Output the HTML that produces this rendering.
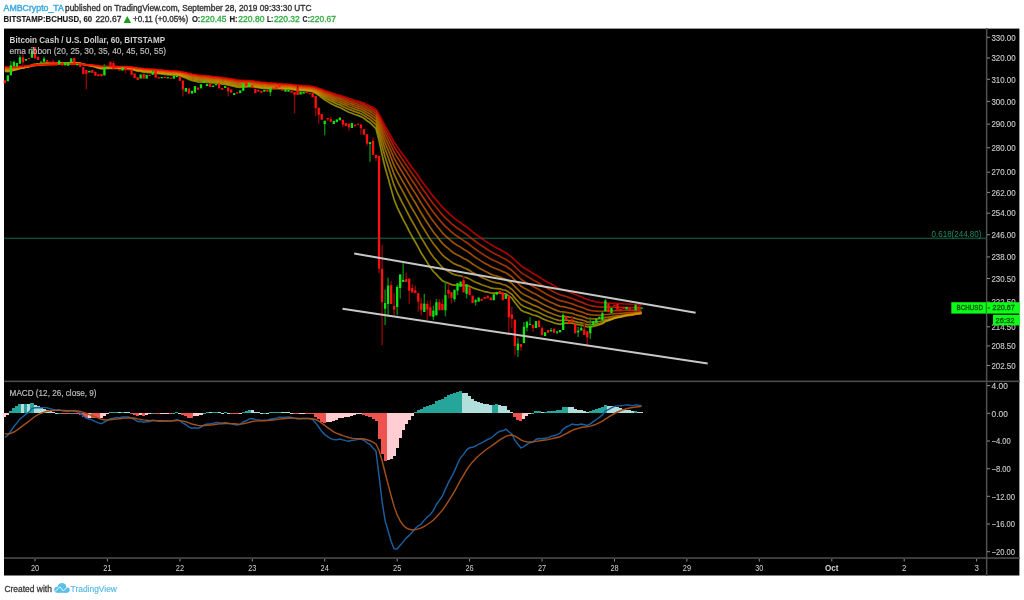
<!DOCTYPE html>
<html><head><meta charset="utf-8"><style>
html,body{margin:0;padding:0;background:#fff;width:1024px;height:600px;overflow:hidden;}
body{position:relative;font-family:"Liberation Sans",sans-serif;}
.t{position:absolute;white-space:nowrap;font-size:9.4px;line-height:1;color:#4a4a4a;}
.b{font-weight:bold;color:#333;}
.g{color:#3cb34a;}
svg{position:absolute;left:0;top:0;filter:blur(0.6px);}
svg text{font-family:"Liberation Sans",sans-serif;}
</style></head><body>
<svg width="1024" height="600" viewBox="0 0 1024 600">
<rect x="4" y="28.6" width="1015.4" height="546.9" fill="#000"/>

<rect x="4" y="380.6" width="1016" height="1.5" fill="#505050"/>
<rect x="4" y="557.3" width="1016" height="1.5" fill="#505050"/>
<rect x="985.9" y="28" width="1.5" height="548" fill="#505050"/>
<rect x="4" y="237.6" width="982" height="1.5" fill="#0f4c36"/>
<rect x="880" y="237.6" width="106" height="1.5" fill="#15623f" opacity="0.0"/>
<text x="931.6" y="237" font-size="9" fill="#1f8c66" textLength="49.8" lengthAdjust="spacingAndGlyphs">0.618(244.80)</text>
<rect x="987" y="36.8" width="3" height="1" fill="#8c8c8c"/>
<text x="991.4" y="40.5" font-size="8.6" fill="#cccccc" stroke="#cccccc" stroke-width="0.12" textLength="24.2" lengthAdjust="spacingAndGlyphs">330.00</text>
<rect x="987" y="57.5" width="3" height="1" fill="#8c8c8c"/>
<text x="991.4" y="61.2" font-size="8.6" fill="#cccccc" stroke="#cccccc" stroke-width="0.12" textLength="24.2" lengthAdjust="spacingAndGlyphs">320.00</text>
<rect x="987" y="78.8" width="3" height="1" fill="#8c8c8c"/>
<text x="991.4" y="82.5" font-size="8.6" fill="#cccccc" stroke="#cccccc" stroke-width="0.12" textLength="24.2" lengthAdjust="spacingAndGlyphs">310.00</text>
<rect x="987" y="100.9" width="3" height="1" fill="#8c8c8c"/>
<text x="991.4" y="104.6" font-size="8.6" fill="#cccccc" stroke="#cccccc" stroke-width="0.12" textLength="24.2" lengthAdjust="spacingAndGlyphs">300.00</text>
<rect x="987" y="123.6" width="3" height="1" fill="#8c8c8c"/>
<text x="991.4" y="127.3" font-size="8.6" fill="#cccccc" stroke="#cccccc" stroke-width="0.12" textLength="24.2" lengthAdjust="spacingAndGlyphs">290.00</text>
<rect x="987" y="147.2" width="3" height="1" fill="#8c8c8c"/>
<text x="991.4" y="150.9" font-size="8.6" fill="#cccccc" stroke="#cccccc" stroke-width="0.12" textLength="24.2" lengthAdjust="spacingAndGlyphs">280.00</text>
<rect x="987" y="171.7" width="3" height="1" fill="#8c8c8c"/>
<text x="991.4" y="175.4" font-size="8.6" fill="#cccccc" stroke="#cccccc" stroke-width="0.12" textLength="24.2" lengthAdjust="spacingAndGlyphs">270.00</text>
<rect x="987" y="191.9" width="3" height="1" fill="#8c8c8c"/>
<text x="991.4" y="195.6" font-size="8.6" fill="#cccccc" stroke="#cccccc" stroke-width="0.12" textLength="24.2" lengthAdjust="spacingAndGlyphs">262.00</text>
<rect x="987" y="212.7" width="3" height="1" fill="#8c8c8c"/>
<text x="991.4" y="216.4" font-size="8.6" fill="#cccccc" stroke="#cccccc" stroke-width="0.12" textLength="24.2" lengthAdjust="spacingAndGlyphs">254.00</text>
<rect x="987" y="234.2" width="3" height="1" fill="#8c8c8c"/>
<text x="991.4" y="237.9" font-size="8.6" fill="#cccccc" stroke="#cccccc" stroke-width="0.12" textLength="24.2" lengthAdjust="spacingAndGlyphs">246.00</text>
<rect x="987" y="256.4" width="3" height="1" fill="#8c8c8c"/>
<text x="991.4" y="260.1" font-size="8.6" fill="#cccccc" stroke="#cccccc" stroke-width="0.12" textLength="24.2" lengthAdjust="spacingAndGlyphs">238.00</text>
<rect x="987" y="278.0" width="3" height="1" fill="#8c8c8c"/>
<text x="991.4" y="281.7" font-size="8.6" fill="#cccccc" stroke="#cccccc" stroke-width="0.12" textLength="24.2" lengthAdjust="spacingAndGlyphs">230.50</text>
<rect x="987" y="301.7" width="3" height="1" fill="#8c8c8c"/>
<text x="991.4" y="305.4" font-size="8.6" fill="#cccccc" stroke="#cccccc" stroke-width="0.12" textLength="24.2" lengthAdjust="spacingAndGlyphs">222.50</text>
<rect x="987" y="326.3" width="3" height="1" fill="#8c8c8c"/>
<text x="991.4" y="330.0" font-size="8.6" fill="#cccccc" stroke="#cccccc" stroke-width="0.12" textLength="24.2" lengthAdjust="spacingAndGlyphs">214.50</text>
<rect x="987" y="345.4" width="3" height="1" fill="#8c8c8c"/>
<text x="991.4" y="349.1" font-size="8.6" fill="#cccccc" stroke="#cccccc" stroke-width="0.12" textLength="24.2" lengthAdjust="spacingAndGlyphs">208.50</text>
<rect x="987" y="365.0" width="3" height="1" fill="#8c8c8c"/>
<text x="991.4" y="368.7" font-size="8.6" fill="#cccccc" stroke="#cccccc" stroke-width="0.12" textLength="24.2" lengthAdjust="spacingAndGlyphs">202.50</text>
<rect x="987" y="385.1" width="3" height="1" fill="#8c8c8c"/>
<text x="991.6" y="388.8" font-size="8.6" fill="#cccccc" stroke="#cccccc" stroke-width="0.12" textLength="16.2" lengthAdjust="spacingAndGlyphs">4.00</text>
<rect x="987" y="412.8" width="3" height="1" fill="#8c8c8c"/>
<text x="991.6" y="416.5" font-size="8.6" fill="#cccccc" stroke="#cccccc" stroke-width="0.12" textLength="16.2" lengthAdjust="spacingAndGlyphs">0.00</text>
<rect x="987" y="440.5" width="3" height="1" fill="#8c8c8c"/>
<text x="991.6" y="444.2" font-size="8.6" fill="#cccccc" stroke="#cccccc" stroke-width="0.12" textLength="19.2" lengthAdjust="spacingAndGlyphs">−4.00</text>
<rect x="987" y="468.2" width="3" height="1" fill="#8c8c8c"/>
<text x="991.6" y="471.9" font-size="8.6" fill="#cccccc" stroke="#cccccc" stroke-width="0.12" textLength="19.2" lengthAdjust="spacingAndGlyphs">−8.00</text>
<rect x="987" y="495.8" width="3" height="1" fill="#8c8c8c"/>
<text x="991.6" y="499.5" font-size="8.6" fill="#cccccc" stroke="#cccccc" stroke-width="0.12" textLength="23.5" lengthAdjust="spacingAndGlyphs">−12.00</text>
<rect x="987" y="523.5" width="3" height="1" fill="#8c8c8c"/>
<text x="991.6" y="527.2" font-size="8.6" fill="#cccccc" stroke="#cccccc" stroke-width="0.12" textLength="23.5" lengthAdjust="spacingAndGlyphs">−16.00</text>
<rect x="987" y="551.2" width="3" height="1" fill="#8c8c8c"/>
<text x="991.6" y="554.9" font-size="8.6" fill="#cccccc" stroke="#cccccc" stroke-width="0.12" textLength="23.5" lengthAdjust="spacingAndGlyphs">−20.00</text>
<rect x="34.5" y="559" width="1" height="2.5" fill="#8c8c8c"/>
<text x="30.9" y="571" font-size="8.6" fill="#d4d4d4" textLength="8.2" lengthAdjust="spacingAndGlyphs">20</text>
<rect x="106.9" y="559" width="1" height="2.5" fill="#8c8c8c"/>
<text x="103.3" y="571" font-size="8.6" fill="#d4d4d4" textLength="8.2" lengthAdjust="spacingAndGlyphs">21</text>
<rect x="179.4" y="559" width="1" height="2.5" fill="#8c8c8c"/>
<text x="175.8" y="571" font-size="8.6" fill="#d4d4d4" textLength="8.2" lengthAdjust="spacingAndGlyphs">22</text>
<rect x="251.8" y="559" width="1" height="2.5" fill="#8c8c8c"/>
<text x="248.2" y="571" font-size="8.6" fill="#d4d4d4" textLength="8.2" lengthAdjust="spacingAndGlyphs">23</text>
<rect x="324.2" y="559" width="1" height="2.5" fill="#8c8c8c"/>
<text x="320.6" y="571" font-size="8.6" fill="#d4d4d4" textLength="8.2" lengthAdjust="spacingAndGlyphs">24</text>
<rect x="396.7" y="559" width="1" height="2.5" fill="#8c8c8c"/>
<text x="393.1" y="571" font-size="8.6" fill="#d4d4d4" textLength="8.2" lengthAdjust="spacingAndGlyphs">25</text>
<rect x="469.1" y="559" width="1" height="2.5" fill="#8c8c8c"/>
<text x="465.5" y="571" font-size="8.6" fill="#d4d4d4" textLength="8.2" lengthAdjust="spacingAndGlyphs">26</text>
<rect x="541.5" y="559" width="1" height="2.5" fill="#8c8c8c"/>
<text x="537.9" y="571" font-size="8.6" fill="#d4d4d4" textLength="8.2" lengthAdjust="spacingAndGlyphs">27</text>
<rect x="614.0" y="559" width="1" height="2.5" fill="#8c8c8c"/>
<text x="610.4" y="571" font-size="8.6" fill="#d4d4d4" textLength="8.2" lengthAdjust="spacingAndGlyphs">28</text>
<rect x="686.4" y="559" width="1" height="2.5" fill="#8c8c8c"/>
<text x="682.8" y="571" font-size="8.6" fill="#d4d4d4" textLength="8.2" lengthAdjust="spacingAndGlyphs">29</text>
<rect x="758.8" y="559" width="1" height="2.5" fill="#8c8c8c"/>
<text x="755.2" y="571" font-size="8.6" fill="#d4d4d4" textLength="8.2" lengthAdjust="spacingAndGlyphs">30</text>
<rect x="831.3" y="559" width="1" height="2.5" fill="#8c8c8c"/>
<text x="825.0" y="571" font-size="8.6" font-weight="bold" fill="#d4d4d4" textLength="13.5" lengthAdjust="spacingAndGlyphs">Oct</text>
<rect x="903.7" y="559" width="1" height="2.5" fill="#8c8c8c"/>
<text x="902.0" y="571" font-size="8.6" fill="#d4d4d4" textLength="4.4" lengthAdjust="spacingAndGlyphs">2</text>
<rect x="976.1" y="559" width="1" height="2.5" fill="#8c8c8c"/>
<text x="974.4" y="571" font-size="8.6" fill="#d4d4d4" textLength="4.4" lengthAdjust="spacingAndGlyphs">3</text>
<polyline points="4.8,71.3 7.8,71.7 10.9,71.1 13.9,70.2 16.9,69.5 19.9,68.4 22.9,67.8 25.9,66.9 29.0,66.2 32.0,64.8 35.0,64.2 38.0,63.8 41.0,63.5 44.1,63.1 47.1,62.9 50.1,63.0 53.1,63.0 56.1,63.0 59.1,62.7 62.2,63.0 65.2,62.9 68.2,62.9 71.2,62.5 74.2,62.6 77.3,62.8 80.3,63.2 83.3,64.2 86.3,65.1 89.3,65.7 92.3,66.3 95.4,67.2 98.4,68.1 101.4,68.9 104.4,68.7 107.4,68.5 110.4,68.2 113.5,68.3 116.5,68.3 119.5,68.5 122.5,68.4 125.5,68.6 128.6,68.7 131.6,69.3 134.6,70.1 137.6,71.1 140.6,71.4 143.6,72.1 146.7,72.3 149.7,72.7 152.7,72.6 155.7,73.0 158.7,73.6 161.8,73.9 164.8,74.3 167.8,74.6 170.8,74.9 173.8,75.0 176.8,75.1 179.9,75.6 182.9,76.9 185.9,78.0 188.9,79.5 191.9,80.5 195.0,81.1 198.0,81.9 201.0,82.1 204.0,82.0 207.0,82.2 210.0,82.6 213.1,82.9 216.1,83.0 219.1,83.5 222.1,84.1 225.1,84.3 228.2,84.9 231.2,85.7 234.2,86.4 237.2,87.1 240.2,87.4 243.2,87.0 246.3,86.9 249.3,86.5 252.3,86.6 255.3,87.2 258.3,87.6 261.4,88.1 264.4,88.3 267.4,88.6 270.4,88.6 273.4,88.6 276.4,88.6 279.5,88.5 282.5,88.8 285.5,88.8 288.5,88.9 291.5,89.3 294.5,89.8 297.6,90.3 300.6,90.4 303.6,90.5 306.6,90.8 309.6,91.1 312.7,91.7 315.7,93.2 318.7,95.2 321.7,97.5 324.7,99.7 327.7,101.6 330.8,103.5 333.8,105.1 336.8,106.4 339.8,107.5 342.8,109.1 345.9,110.7 348.9,112.2 351.9,113.3 354.9,114.5 357.9,115.4 360.9,116.6 364.0,118.3 367.0,120.7 370.0,122.7 373.0,125.7 376.0,128.7 379.1,140.9 382.1,154.7 385.1,167.5 388.1,177.9 391.1,188.9 394.1,199.5 397.2,207.4 400.2,213.5 403.2,219.6 406.2,225.2 409.2,231.2 412.2,236.8 415.3,242.0 418.3,247.4 421.3,253.2 424.3,257.8 427.3,262.6 430.4,267.5 433.4,271.5 436.4,274.4 439.4,277.7 442.4,280.7 445.4,282.1 448.5,283.2 451.5,284.6 454.5,285.1 457.5,284.9 460.5,284.6 463.6,285.3 466.6,285.2 469.6,286.2 472.6,287.7 475.6,288.9 478.6,289.7 481.7,290.8 484.7,291.6 487.7,292.2 490.7,293.0 493.7,293.1 496.8,293.0 499.8,293.0 502.8,293.7 505.8,293.8 508.8,296.0 511.8,298.1 514.9,302.5 517.9,306.3 520.9,310.1 523.9,311.7 526.9,312.6 530.0,313.7 533.0,315.0 536.0,315.6 539.0,316.7 542.0,318.4 545.0,319.8 548.1,321.0 551.1,321.8 554.1,322.9 557.1,323.7 560.1,324.3 563.1,323.4 566.2,323.1 569.2,323.2 572.2,323.1 575.2,324.0 578.2,324.7 581.3,325.0 584.3,325.9 587.3,327.0 590.3,327.0 593.3,326.4 596.3,325.7 599.4,324.8 602.4,323.7 605.4,321.5 608.4,320.6 611.4,319.4 614.5,318.1 617.5,317.3 620.5,316.6 623.5,315.9 626.5,315.0 629.5,314.5 632.6,314.2 635.6,313.3 638.6,312.9 641.6,312.4" fill="none" stroke="#d0c400" stroke-width="1.7" stroke-opacity="0.68"/>
<polyline points="4.8,70.6 7.8,70.9 10.9,70.5 13.9,69.8 16.9,69.3 19.9,68.4 22.9,67.9 25.9,67.2 29.0,66.6 32.0,65.4 35.0,64.9 38.0,64.5 41.0,64.3 44.1,63.8 47.1,63.7 50.1,63.6 53.1,63.6 56.1,63.5 59.1,63.3 62.2,63.4 65.2,63.4 68.2,63.3 71.2,62.9 74.2,63.0 77.3,63.1 80.3,63.4 83.3,64.2 86.3,65.0 89.3,65.4 92.3,66.0 95.4,66.7 98.4,67.5 101.4,68.1 104.4,68.0 107.4,68.0 110.4,67.8 113.5,67.9 116.5,67.9 119.5,68.1 122.5,68.0 125.5,68.2 128.6,68.4 131.6,68.9 134.6,69.6 137.6,70.4 140.6,70.7 143.6,71.3 146.7,71.5 149.7,71.9 152.7,71.9 155.7,72.3 158.7,72.8 161.8,73.1 164.8,73.5 167.8,73.8 170.8,74.1 173.8,74.3 176.8,74.4 179.9,74.9 182.9,76.0 185.9,76.9 188.9,78.2 191.9,79.1 195.0,79.7 198.0,80.4 201.0,80.7 204.0,80.7 207.0,81.0 210.0,81.4 213.1,81.8 216.1,81.9 219.1,82.4 222.1,83.0 225.1,83.2 228.2,83.8 231.2,84.5 234.2,85.2 237.2,85.8 240.2,86.2 243.2,85.9 246.3,85.9 249.3,85.7 252.3,85.8 255.3,86.4 258.3,86.8 261.4,87.3 264.4,87.4 267.4,87.8 270.4,87.8 273.4,87.9 276.4,88.0 279.5,87.9 282.5,88.2 285.5,88.3 288.5,88.4 291.5,88.7 294.5,89.2 297.6,89.6 300.6,89.8 303.6,89.9 306.6,90.2 309.6,90.5 312.7,91.0 315.7,92.3 318.7,94.0 321.7,95.9 324.7,97.8 327.7,99.5 330.8,101.1 333.8,102.6 336.8,103.9 339.8,104.9 342.8,106.4 345.9,107.9 348.9,109.4 351.9,110.4 354.9,111.6 357.9,112.6 360.9,113.8 364.0,115.4 367.0,117.5 370.0,119.4 373.0,122.0 376.0,124.7 379.1,134.8 382.1,146.3 385.1,157.1 388.1,166.2 391.1,175.8 394.1,185.2 397.2,192.5 400.2,198.5 403.2,204.4 406.2,210.1 409.2,216.0 412.2,221.5 415.3,226.8 418.3,232.3 421.3,237.9 424.3,242.8 427.3,247.7 430.4,252.7 433.4,257.0 436.4,260.4 439.4,264.1 442.4,267.5 445.4,269.6 448.5,271.4 451.5,273.4 454.5,274.7 457.5,275.3 460.5,275.8 463.6,277.0 466.6,277.6 469.6,278.9 472.6,280.8 475.6,282.3 478.6,283.4 481.7,284.7 484.7,285.8 487.7,286.8 490.7,287.8 493.7,288.3 496.8,288.6 499.8,288.9 502.8,289.8 505.8,290.2 508.8,292.2 511.8,294.2 514.9,298.1 517.9,301.5 520.9,304.8 523.9,306.5 526.9,307.7 530.0,308.9 533.0,310.3 536.0,311.2 539.0,312.4 542.0,314.1 545.0,315.5 548.1,316.8 551.1,317.8 554.1,319.0 557.1,319.9 560.1,320.7 563.1,320.2 566.2,320.2 569.2,320.5 572.2,320.6 575.2,321.6 578.2,322.3 581.3,322.8 584.3,323.7 587.3,324.7 590.3,324.9 593.3,324.6 596.3,324.1 599.4,323.6 602.4,322.7 605.4,321.0 608.4,320.3 611.4,319.4 614.5,318.3 617.5,317.7 620.5,317.1 623.5,316.5 626.5,315.7 629.5,315.3 632.6,314.9 635.6,314.1 638.6,313.8 641.6,313.3" fill="none" stroke="#d4b000" stroke-width="1.7" stroke-opacity="0.68"/>
<polyline points="4.8,69.8 7.8,70.2 10.9,69.9 13.9,69.3 16.9,68.9 19.9,68.2 22.9,67.8 25.9,67.2 29.0,66.7 32.0,65.7 35.0,65.2 38.0,64.9 41.0,64.7 44.1,64.3 47.1,64.1 50.1,64.0 53.1,64.0 56.1,63.9 59.1,63.7 62.2,63.8 65.2,63.7 68.2,63.7 71.2,63.3 74.2,63.3 77.3,63.4 80.3,63.6 83.3,64.3 86.3,64.9 89.3,65.3 92.3,65.8 95.4,66.4 98.4,67.1 101.4,67.6 104.4,67.6 107.4,67.6 110.4,67.4 113.5,67.5 116.5,67.6 119.5,67.8 122.5,67.7 125.5,67.9 128.6,68.0 131.6,68.5 134.6,69.1 137.6,69.8 140.6,70.1 143.6,70.6 146.7,70.9 149.7,71.2 152.7,71.2 155.7,71.7 158.7,72.1 161.8,72.4 164.8,72.8 167.8,73.1 170.8,73.4 173.8,73.6 176.8,73.7 179.9,74.2 182.9,75.1 185.9,76.0 188.9,77.1 191.9,78.0 195.0,78.5 198.0,79.2 201.0,79.5 204.0,79.6 207.0,79.9 210.0,80.3 213.1,80.7 216.1,80.9 219.1,81.4 222.1,81.9 225.1,82.2 228.2,82.8 231.2,83.4 234.2,84.0 237.2,84.6 240.2,85.0 243.2,84.9 246.3,85.0 249.3,84.8 252.3,85.0 255.3,85.5 258.3,85.9 261.4,86.3 264.4,86.6 267.4,86.9 270.4,87.0 273.4,87.1 276.4,87.2 279.5,87.3 282.5,87.5 285.5,87.6 288.5,87.7 291.5,88.1 294.5,88.5 297.6,88.9 300.6,89.1 303.6,89.3 306.6,89.5 309.6,89.8 312.7,90.3 315.7,91.4 318.7,92.9 321.7,94.6 324.7,96.3 327.7,97.7 330.8,99.2 333.8,100.6 336.8,101.8 339.8,102.8 342.8,104.2 345.9,105.6 348.9,107.0 351.9,108.0 354.9,109.1 357.9,110.1 360.9,111.3 364.0,112.8 367.0,114.7 370.0,116.5 373.0,118.9 376.0,121.3 379.1,129.9 382.1,139.8 385.1,149.2 388.1,157.2 391.1,165.8 394.1,174.2 397.2,180.9 400.2,186.6 403.2,192.2 406.2,197.7 409.2,203.3 412.2,208.7 415.3,213.9 418.3,219.2 421.3,224.7 424.3,229.5 427.3,234.4 430.4,239.4 433.4,243.8 436.4,247.4 439.4,251.3 442.4,254.9 445.4,257.5 448.5,259.7 451.5,262.1 454.5,263.9 457.5,265.1 460.5,266.1 463.6,267.8 466.6,268.9 469.6,270.5 472.6,272.6 475.6,274.3 478.6,275.8 481.7,277.4 484.7,278.8 487.7,280.0 490.7,281.3 493.7,282.1 496.8,282.8 499.8,283.4 502.8,284.5 505.8,285.2 508.8,287.2 511.8,289.2 514.9,292.7 517.9,295.9 520.9,299.0 523.9,300.8 526.9,302.1 530.0,303.5 533.0,305.1 536.0,306.1 539.0,307.4 542.0,309.2 545.0,310.7 548.1,312.1 551.1,313.2 554.1,314.5 557.1,315.5 560.1,316.5 563.1,316.4 566.2,316.6 569.2,317.1 572.2,317.4 575.2,318.4 578.2,319.2 581.3,319.8 584.3,320.7 587.3,321.8 590.3,322.1 593.3,322.0 596.3,321.8 599.4,321.5 602.4,321.0 605.4,319.6 608.4,319.1 611.4,318.4 614.5,317.6 617.5,317.1 620.5,316.7 623.5,316.2 626.5,315.6 629.5,315.2 632.6,314.9 635.6,314.2 638.6,313.9 641.6,313.5" fill="none" stroke="#dc9c00" stroke-width="1.7" stroke-opacity="0.68"/>
<polyline points="4.8,69.1 7.8,69.5 10.9,69.2 13.9,68.8 16.9,68.5 19.9,67.9 22.9,67.6 25.9,67.1 29.0,66.6 32.0,65.8 35.0,65.4 38.0,65.1 41.0,64.9 44.1,64.5 47.1,64.4 50.1,64.3 53.1,64.2 56.1,64.2 59.1,63.9 62.2,64.0 65.2,63.9 68.2,63.9 71.2,63.6 74.2,63.6 77.3,63.6 80.3,63.8 83.3,64.4 86.3,64.9 89.3,65.2 92.3,65.6 95.4,66.2 98.4,66.8 101.4,67.3 104.4,67.3 107.4,67.3 110.4,67.2 113.5,67.3 116.5,67.3 119.5,67.5 122.5,67.5 125.5,67.6 128.6,67.8 131.6,68.2 134.6,68.7 137.6,69.3 140.6,69.6 143.6,70.1 146.7,70.4 149.7,70.7 152.7,70.7 155.7,71.1 158.7,71.5 161.8,71.8 164.8,72.2 167.8,72.4 170.8,72.8 173.8,72.9 176.8,73.1 179.9,73.5 182.9,74.4 185.9,75.2 188.9,76.2 191.9,77.0 195.0,77.5 198.0,78.2 201.0,78.5 204.0,78.6 207.0,78.9 210.0,79.4 213.1,79.7 216.1,79.9 219.1,80.4 222.1,80.9 225.1,81.2 228.2,81.8 231.2,82.4 234.2,82.9 237.2,83.5 240.2,83.9 243.2,83.9 246.3,84.0 249.3,83.9 252.3,84.1 255.3,84.6 258.3,85.0 261.4,85.4 264.4,85.7 267.4,86.0 270.4,86.1 273.4,86.3 276.4,86.4 279.5,86.5 282.5,86.7 285.5,86.9 288.5,87.0 291.5,87.4 294.5,87.8 297.6,88.2 300.6,88.4 303.6,88.6 306.6,88.8 309.6,89.1 312.7,89.5 315.7,90.6 318.7,91.9 321.7,93.4 324.7,94.9 327.7,96.2 330.8,97.6 333.8,98.9 336.8,100.0 339.8,101.0 342.8,102.3 345.9,103.6 348.9,104.8 351.9,105.8 354.9,107.0 357.9,107.9 360.9,109.0 364.0,110.4 367.0,112.2 370.0,113.9 373.0,116.1 376.0,118.3 379.1,125.9 382.1,134.5 385.1,142.9 388.1,150.1 391.1,157.8 394.1,165.3 397.2,171.6 400.2,176.9 403.2,182.2 406.2,187.4 409.2,192.7 412.2,197.9 415.3,202.8 418.3,208.0 421.3,213.3 424.3,218.0 427.3,222.8 430.4,227.6 433.4,232.0 436.4,235.7 439.4,239.6 442.4,243.3 445.4,246.1 448.5,248.7 451.5,251.3 454.5,253.4 457.5,255.0 460.5,256.5 463.6,258.4 466.6,259.8 469.6,261.7 472.6,264.0 475.6,265.9 478.6,267.7 481.7,269.5 484.7,271.1 487.7,272.5 490.7,274.1 493.7,275.2 496.8,276.1 499.8,277.0 502.8,278.3 505.8,279.2 508.8,281.3 511.8,283.3 514.9,286.6 517.9,289.7 520.9,292.7 523.9,294.6 526.9,296.0 530.0,297.6 533.0,299.2 536.0,300.4 539.0,301.9 542.0,303.7 545.0,305.2 548.1,306.7 551.1,308.0 554.1,309.4 557.1,310.6 560.1,311.6 563.1,311.8 566.2,312.3 569.2,312.9 572.2,313.4 575.2,314.5 578.2,315.4 581.3,316.1 584.3,317.1 587.3,318.3 590.3,318.7 593.3,318.8 596.3,318.8 599.4,318.7 602.4,318.4 605.4,317.4 608.4,317.1 611.4,316.6 614.5,316.0 617.5,315.7 620.5,315.4 623.5,315.0 626.5,314.6 629.5,314.3 632.6,314.1 635.6,313.6 638.6,313.3 641.6,313.0" fill="none" stroke="#e48400" stroke-width="1.7" stroke-opacity="0.68"/>
<polyline points="4.8,68.5 7.8,68.8 10.9,68.6 13.9,68.3 16.9,68.0 19.9,67.5 22.9,67.2 25.9,66.8 29.0,66.5 32.0,65.7 35.0,65.4 38.0,65.1 41.0,64.9 44.1,64.6 47.1,64.5 50.1,64.4 53.1,64.3 56.1,64.3 59.1,64.1 62.2,64.1 65.2,64.1 68.2,64.0 71.2,63.7 74.2,63.7 77.3,63.8 80.3,63.9 83.3,64.4 86.3,64.9 89.3,65.2 92.3,65.5 95.4,66.0 98.4,66.5 101.4,67.0 104.4,67.0 107.4,67.0 110.4,66.9 113.5,67.0 116.5,67.1 119.5,67.3 122.5,67.3 125.5,67.4 128.6,67.5 131.6,67.9 134.6,68.4 137.6,68.9 140.6,69.2 143.6,69.7 146.7,69.9 149.7,70.2 152.7,70.3 155.7,70.6 158.7,71.0 161.8,71.3 164.8,71.6 167.8,71.9 170.8,72.2 173.8,72.4 176.8,72.6 179.9,73.0 182.9,73.8 185.9,74.4 188.9,75.4 191.9,76.1 195.0,76.6 198.0,77.2 201.0,77.6 204.0,77.7 207.0,78.0 210.0,78.5 213.1,78.8 216.1,79.0 219.1,79.5 222.1,80.0 225.1,80.3 228.2,80.8 231.2,81.4 234.2,82.0 237.2,82.5 240.2,82.9 243.2,82.9 246.3,83.1 249.3,83.1 252.3,83.3 255.3,83.8 258.3,84.1 261.4,84.6 264.4,84.8 267.4,85.1 270.4,85.3 273.4,85.5 276.4,85.6 279.5,85.7 282.5,86.0 285.5,86.1 288.5,86.3 291.5,86.6 294.5,87.0 297.6,87.4 300.6,87.6 303.6,87.8 306.6,88.1 309.6,88.4 312.7,88.8 315.7,89.7 318.7,90.9 321.7,92.3 324.7,93.7 327.7,94.9 330.8,96.2 333.8,97.4 336.8,98.4 339.8,99.3 342.8,100.5 345.9,101.8 348.9,103.0 351.9,103.9 354.9,105.0 357.9,106.0 360.9,107.0 364.0,108.4 367.0,110.0 370.0,111.6 373.0,113.6 376.0,115.7 379.1,122.4 382.1,130.2 385.1,137.6 388.1,144.2 391.1,151.1 394.1,158.1 397.2,163.8 400.2,168.8 403.2,173.8 406.2,178.7 409.2,183.8 412.2,188.7 415.3,193.4 418.3,198.3 421.3,203.4 424.3,207.9 427.3,212.5 430.4,217.2 433.4,221.5 436.4,225.2 439.4,229.1 442.4,232.9 445.4,235.8 448.5,238.5 451.5,241.3 454.5,243.5 457.5,245.4 460.5,247.1 463.6,249.3 466.6,250.9 469.6,253.0 472.6,255.4 475.6,257.5 478.6,259.4 481.7,261.4 484.7,263.2 487.7,264.8 490.7,266.5 493.7,267.8 496.8,269.0 499.8,270.2 502.8,271.6 505.8,272.7 508.8,274.8 511.8,276.9 514.9,280.1 517.9,283.1 520.9,286.0 523.9,288.0 526.9,289.6 530.0,291.2 533.0,293.0 536.0,294.3 539.0,295.9 542.0,297.7 545.0,299.4 548.1,301.0 551.1,302.4 554.1,303.8 557.1,305.1 560.1,306.3 563.1,306.7 566.2,307.4 569.2,308.2 572.2,308.9 575.2,310.0 578.2,311.0 581.3,311.9 584.3,313.0 587.3,314.1 590.3,314.7 593.3,315.0 596.3,315.2 599.4,315.3 602.4,315.2 605.4,314.5 608.4,314.4 611.4,314.0 614.5,313.7 617.5,313.5 620.5,313.3 623.5,313.1 626.5,312.8 629.5,312.7 632.6,312.6 635.6,312.2 638.6,312.0 641.6,311.8" fill="none" stroke="#ec6c00" stroke-width="1.7" stroke-opacity="0.68"/>
<polyline points="4.8,67.8 7.8,68.1 10.9,68.0 13.9,67.7 16.9,67.5 19.9,67.1 22.9,66.9 25.9,66.5 29.0,66.2 32.0,65.5 35.0,65.2 38.0,65.0 41.0,64.9 44.1,64.6 47.1,64.5 50.1,64.4 53.1,64.3 56.1,64.3 59.1,64.1 62.2,64.2 65.2,64.1 68.2,64.0 71.2,63.8 74.2,63.8 77.3,63.8 80.3,63.9 83.3,64.4 86.3,64.8 89.3,65.1 92.3,65.4 95.4,65.8 98.4,66.3 101.4,66.7 104.4,66.7 107.4,66.8 110.4,66.7 113.5,66.8 116.5,66.9 119.5,67.0 122.5,67.0 125.5,67.2 128.6,67.3 131.6,67.6 134.6,68.1 137.6,68.6 140.6,68.8 143.6,69.3 146.7,69.5 149.7,69.8 152.7,69.9 155.7,70.2 158.7,70.6 161.8,70.8 164.8,71.1 167.8,71.4 170.8,71.7 173.8,71.9 176.8,72.1 179.9,72.4 182.9,73.2 185.9,73.8 188.9,74.7 191.9,75.3 195.0,75.8 198.0,76.4 201.0,76.8 204.0,76.9 207.0,77.2 210.0,77.6 213.1,78.0 216.1,78.2 219.1,78.7 222.1,79.2 225.1,79.5 228.2,80.0 231.2,80.5 234.2,81.1 237.2,81.6 240.2,82.0 243.2,82.0 246.3,82.2 249.3,82.2 252.3,82.5 255.3,82.9 258.3,83.3 261.4,83.7 264.4,84.0 267.4,84.3 270.4,84.5 273.4,84.7 276.4,84.9 279.5,85.0 282.5,85.2 285.5,85.4 288.5,85.6 291.5,85.9 294.5,86.3 297.6,86.7 300.6,86.9 303.6,87.1 306.6,87.4 309.6,87.6 312.7,88.1 315.7,88.9 318.7,90.0 321.7,91.3 324.7,92.5 327.7,93.7 330.8,94.9 333.8,96.0 336.8,97.0 339.8,97.9 342.8,99.0 345.9,100.2 348.9,101.3 351.9,102.2 354.9,103.3 357.9,104.2 360.9,105.2 364.0,106.5 367.0,108.0 370.0,109.5 373.0,111.4 376.0,113.4 379.1,119.4 382.1,126.4 385.1,133.2 388.1,139.2 391.1,145.5 394.1,151.9 397.2,157.2 400.2,161.9 403.2,166.7 406.2,171.3 409.2,176.1 412.2,180.7 415.3,185.2 418.3,189.9 421.3,194.7 424.3,199.1 427.3,203.5 430.4,208.1 433.4,212.2 436.4,215.9 439.4,219.7 442.4,223.4 445.4,226.4 448.5,229.2 451.5,232.0 454.5,234.4 457.5,236.5 460.5,238.4 463.6,240.6 466.6,242.5 469.6,244.7 472.6,247.1 475.6,249.3 478.6,251.4 481.7,253.4 484.7,255.4 487.7,257.2 490.7,259.0 493.7,260.5 496.8,261.8 499.8,263.2 502.8,264.7 505.8,266.0 508.8,268.2 511.8,270.3 514.9,273.4 517.9,276.3 520.9,279.2 523.9,281.2 526.9,282.9 530.0,284.7 533.0,286.5 536.0,288.0 539.0,289.6 542.0,291.5 545.0,293.3 548.1,294.9 551.1,296.4 554.1,298.0 557.1,299.4 560.1,300.7 563.1,301.3 566.2,302.1 569.2,303.0 572.2,303.9 575.2,305.1 578.2,306.2 581.3,307.1 584.3,308.3 587.3,309.6 590.3,310.3 593.3,310.8 596.3,311.1 599.4,311.4 602.4,311.4 605.4,310.9 608.4,311.0 611.4,310.9 614.5,310.7 617.5,310.6 620.5,310.6 623.5,310.5 626.5,310.4 629.5,310.4 632.6,310.4 635.6,310.1 638.6,310.1 641.6,310.0" fill="none" stroke="#f05000" stroke-width="1.7" stroke-opacity="0.68"/>
<polyline points="4.8,67.2 7.8,67.6 10.9,67.5 13.9,67.3 16.9,67.1 19.9,66.7 22.9,66.5 25.9,66.2 29.0,65.9 32.0,65.4 35.0,65.1 38.0,64.9 41.0,64.8 44.1,64.5 47.1,64.4 50.1,64.4 53.1,64.3 56.1,64.3 59.1,64.1 62.2,64.2 65.2,64.1 68.2,64.0 71.2,63.8 74.2,63.8 77.3,63.8 80.3,64.0 83.3,64.4 86.3,64.7 89.3,65.0 92.3,65.3 95.4,65.7 98.4,66.1 101.4,66.5 104.4,66.5 107.4,66.5 110.4,66.5 113.5,66.6 116.5,66.6 119.5,66.8 122.5,66.8 125.5,67.0 128.6,67.1 131.6,67.4 134.6,67.8 137.6,68.3 140.6,68.5 143.6,68.9 146.7,69.1 149.7,69.4 152.7,69.5 155.7,69.8 158.7,70.1 161.8,70.4 164.8,70.7 167.8,71.0 170.8,71.3 173.8,71.4 176.8,71.6 179.9,72.0 182.9,72.6 185.9,73.2 188.9,74.0 191.9,74.7 195.0,75.1 198.0,75.7 201.0,76.0 204.0,76.2 207.0,76.5 210.0,76.9 213.1,77.3 216.1,77.5 219.1,77.9 222.1,78.4 225.1,78.7 228.2,79.2 231.2,79.7 234.2,80.2 237.2,80.7 240.2,81.1 243.2,81.2 246.3,81.4 249.3,81.4 252.3,81.7 255.3,82.1 258.3,82.5 261.4,82.9 264.4,83.2 267.4,83.5 270.4,83.7 273.4,83.9 276.4,84.1 279.5,84.2 282.5,84.5 285.5,84.7 288.5,84.9 291.5,85.2 294.5,85.6 297.6,85.9 300.6,86.1 303.6,86.4 306.6,86.6 309.6,86.9 312.7,87.3 315.7,88.1 318.7,89.1 321.7,90.3 324.7,91.5 327.7,92.6 330.8,93.7 333.8,94.7 336.8,95.7 339.8,96.5 342.8,97.6 345.9,98.7 348.9,99.8 351.9,100.7 354.9,101.7 357.9,102.5 360.9,103.5 364.0,104.7 367.0,106.2 370.0,107.6 373.0,109.4 376.0,111.2 379.1,116.8 382.1,123.1 385.1,129.4 388.1,134.9 391.1,140.7 394.1,146.6 397.2,151.6 400.2,156.0 403.2,160.5 406.2,164.9 409.2,169.4 412.2,173.8 415.3,178.1 418.3,182.5 421.3,187.1 424.3,191.3 427.3,195.6 430.4,199.9 433.4,204.0 436.4,207.5 439.4,211.3 442.4,214.9 445.4,217.9 448.5,220.7 451.5,223.6 454.5,226.0 457.5,228.2 460.5,230.2 463.6,232.5 466.6,234.5 469.6,236.8 472.6,239.3 475.6,241.5 478.6,243.7 481.7,245.8 484.7,247.8 487.7,249.7 490.7,251.6 493.7,253.3 496.8,254.7 499.8,256.2 502.8,257.9 505.8,259.3 508.8,261.5 511.8,263.6 514.9,266.7 517.9,269.5 520.9,272.4 523.9,274.4 526.9,276.2 530.0,278.0 533.0,279.9 536.0,281.5 539.0,283.2 542.0,285.2 545.0,287.0 548.1,288.7 551.1,290.3 554.1,291.9 557.1,293.4 560.1,294.8 563.1,295.6 566.2,296.5 569.2,297.6 572.2,298.5 575.2,299.9 578.2,301.1 581.3,302.1 584.3,303.4 587.3,304.7 590.3,305.5 593.3,306.1 596.3,306.6 599.4,307.0 602.4,307.2 605.4,307.0 608.4,307.2 611.4,307.2 614.5,307.2 617.5,307.3 620.5,307.4 623.5,307.4 626.5,307.4 629.5,307.5 632.6,307.6 635.6,307.5 638.6,307.6 641.6,307.6" fill="none" stroke="#f03000" stroke-width="1.7" stroke-opacity="0.68"/>
<polyline points="4.8,66.7 7.8,67.0 10.9,67.0 13.9,66.8 16.9,66.6 19.9,66.3 22.9,66.2 25.9,65.9 29.0,65.7 32.0,65.1 35.0,64.9 38.0,64.7 41.0,64.6 44.1,64.4 47.1,64.3 50.1,64.3 53.1,64.2 56.1,64.2 59.1,64.0 62.2,64.1 65.2,64.0 68.2,64.0 71.2,63.8 74.2,63.8 77.3,63.8 80.3,63.9 83.3,64.3 86.3,64.6 89.3,64.8 92.3,65.1 95.4,65.5 98.4,65.9 101.4,66.2 104.4,66.3 107.4,66.3 110.4,66.3 113.5,66.4 116.5,66.4 119.5,66.6 122.5,66.6 125.5,66.7 128.6,66.9 131.6,67.1 134.6,67.5 137.6,68.0 140.6,68.2 143.6,68.6 146.7,68.8 149.7,69.0 152.7,69.1 155.7,69.4 158.7,69.8 161.8,70.0 164.8,70.3 167.8,70.5 170.8,70.8 173.8,71.0 176.8,71.2 179.9,71.5 182.9,72.1 185.9,72.7 188.9,73.4 191.9,74.1 195.0,74.5 198.0,75.0 201.0,75.3 204.0,75.5 207.0,75.8 210.0,76.2 213.1,76.6 216.1,76.8 219.1,77.2 222.1,77.7 225.1,78.0 228.2,78.4 231.2,78.9 234.2,79.4 237.2,79.9 240.2,80.3 243.2,80.4 246.3,80.6 249.3,80.7 252.3,80.9 255.3,81.4 258.3,81.7 261.4,82.1 264.4,82.4 267.4,82.7 270.4,82.9 273.4,83.1 276.4,83.3 279.5,83.5 282.5,83.8 285.5,84.0 288.5,84.2 291.5,84.5 294.5,84.8 297.6,85.2 300.6,85.4 303.6,85.6 306.6,85.9 309.6,86.2 312.7,86.6 315.7,87.4 318.7,88.3 321.7,89.4 324.7,90.5 327.7,91.5 330.8,92.6 333.8,93.6 336.8,94.5 339.8,95.3 342.8,96.3 345.9,97.3 348.9,98.4 351.9,99.2 354.9,100.2 357.9,101.0 360.9,102.0 364.0,103.1 367.0,104.5 370.0,105.9 373.0,107.5 376.0,109.3 379.1,114.4 382.1,120.2 385.1,126.0 388.1,131.1 391.1,136.6 394.1,142.0 397.2,146.7 400.2,150.9 403.2,155.1 406.2,159.2 409.2,163.5 412.2,167.7 415.3,171.8 418.3,176.0 421.3,180.4 424.3,184.4 427.3,188.5 430.4,192.7 433.4,196.6 436.4,200.1 439.4,203.7 442.4,207.2 445.4,210.2 448.5,213.0 451.5,215.8 454.5,218.3 457.5,220.6 460.5,222.6 463.6,225.0 466.6,227.0 469.6,229.4 472.6,231.9 475.6,234.2 478.6,236.3 481.7,238.5 484.7,240.6 487.7,242.6 490.7,244.6 493.7,246.3 496.8,247.9 499.8,249.4 502.8,251.2 505.8,252.7 508.8,254.9 511.8,257.1 514.9,260.0 517.9,262.9 520.9,265.7 523.9,267.8 526.9,269.6 530.0,271.5 533.0,273.4 536.0,275.1 539.0,276.9 542.0,278.9 545.0,280.7 548.1,282.5 551.1,284.1 554.1,285.8 557.1,287.4 560.1,288.9 563.1,289.8 566.2,290.8 569.2,292.0 572.2,293.1 575.2,294.5 578.2,295.7 581.3,296.8 584.3,298.2 587.3,299.5 590.3,300.5 593.3,301.2 596.3,301.8 599.4,302.3 602.4,302.7 605.4,302.6 608.4,303.0 611.4,303.2 614.5,303.3 617.5,303.5 620.5,303.7 623.5,303.9 626.5,304.0 629.5,304.2 632.6,304.5 635.6,304.5 638.6,304.7 641.6,304.8" fill="none" stroke="#ff0000" stroke-width="1.7" stroke-opacity="0.68"/>
<rect x="3.67" y="80.3" width="2.3" height="3.0" fill="#ff1010"/>
<rect x="6.69" y="75.3" width="2.3" height="6.0" fill="#12e412"/>
<rect x="10.2" y="61.0" width="1.4" height="14.3" fill="#088608"/>
<rect x="9.71" y="65.3" width="2.3" height="10.0" fill="#12e412"/>
<rect x="13.2" y="60.7" width="1.4" height="5.6" fill="#088608"/>
<rect x="12.72" y="62.0" width="2.3" height="4.3" fill="#12e412"/>
<rect x="15.74" y="63.0" width="2.3" height="3.7" fill="#12e412"/>
<rect x="19.2" y="55.3" width="1.4" height="8.4" fill="#088608"/>
<rect x="18.76" y="57.3" width="2.3" height="6.4" fill="#12e412"/>
<rect x="22.2" y="54.3" width="1.4" height="12.4" fill="#8c0404"/>
<rect x="21.78" y="57.3" width="2.3" height="5.0" fill="#ff1010"/>
<rect x="24.80" y="59.0" width="2.3" height="1.7" fill="#12e412"/>
<rect x="27.81" y="58.0" width="2.3" height="1.2" fill="#ff1010"/>
<rect x="31.3" y="47.5" width="1.4" height="10.2" fill="#088608"/>
<rect x="30.83" y="51.3" width="2.3" height="6.4" fill="#12e412"/>
<rect x="33.85" y="47.0" width="2.3" height="11.5" fill="#ff1010"/>
<rect x="36.87" y="56.7" width="2.3" height="3.3" fill="#ff1010"/>
<rect x="39.89" y="61.5" width="2.3" height="1.2" fill="#12e412"/>
<rect x="43.4" y="56.7" width="1.4" height="5.0" fill="#088608"/>
<rect x="42.90" y="58.7" width="2.3" height="3.0" fill="#12e412"/>
<rect x="45.92" y="60.0" width="2.3" height="1.7" fill="#ff1010"/>
<rect x="48.94" y="61.5" width="2.3" height="1.5" fill="#ff1010"/>
<rect x="52.4" y="59.6" width="1.4" height="3.4" fill="#8c0404"/>
<rect x="51.96" y="61.5" width="2.3" height="1.5" fill="#ff1010"/>
<rect x="54.98" y="62.0" width="2.3" height="1.2" fill="#ff1010"/>
<rect x="57.99" y="60.4" width="2.3" height="4.2" fill="#12e412"/>
<rect x="61.01" y="63.8" width="2.3" height="1.7" fill="#ff1010"/>
<rect x="64.03" y="62.5" width="2.3" height="2.9" fill="#12e412"/>
<rect x="67.05" y="62.9" width="2.3" height="2.9" fill="#12e412"/>
<rect x="70.07" y="58.3" width="2.3" height="4.2" fill="#12e412"/>
<rect x="73.08" y="57.9" width="2.3" height="5.9" fill="#ff1010"/>
<rect x="76.10" y="64.2" width="2.3" height="1.2" fill="#12e412"/>
<rect x="79.12" y="64.6" width="2.3" height="2.5" fill="#ff1010"/>
<rect x="82.14" y="67.1" width="2.3" height="7.1" fill="#ff1010"/>
<rect x="85.6" y="70.0" width="1.4" height="19.2" fill="#8c0404"/>
<rect x="85.16" y="70.0" width="2.3" height="3.8" fill="#ff1010"/>
<rect x="88.17" y="70.8" width="2.3" height="1.7" fill="#12e412"/>
<rect x="91.19" y="70.0" width="2.3" height="2.9" fill="#ff1010"/>
<rect x="94.21" y="71.7" width="2.3" height="4.1" fill="#ff1010"/>
<rect x="97.23" y="74.2" width="2.3" height="2.0" fill="#ff1010"/>
<rect x="100.25" y="73.8" width="2.3" height="2.5" fill="#ff1010"/>
<rect x="103.7" y="64.2" width="1.4" height="11.2" fill="#088608"/>
<rect x="103.26" y="67.1" width="2.3" height="8.3" fill="#12e412"/>
<rect x="106.28" y="67.0" width="2.3" height="1.2" fill="#12e412"/>
<rect x="109.30" y="61.7" width="2.3" height="3.8" fill="#ff1010"/>
<rect x="112.8" y="61.0" width="1.4" height="8.2" fill="#8c0404"/>
<rect x="112.32" y="63.1" width="2.3" height="6.1" fill="#ff1010"/>
<rect x="115.34" y="67.0" width="2.3" height="1.2" fill="#ff1010"/>
<rect x="118.35" y="69.2" width="2.3" height="1.4" fill="#ff1010"/>
<rect x="121.37" y="67.3" width="2.3" height="3.3" fill="#12e412"/>
<rect x="124.8" y="68.3" width="1.4" height="5.1" fill="#8c0404"/>
<rect x="124.39" y="68.3" width="2.3" height="1.9" fill="#ff1010"/>
<rect x="127.41" y="69.3" width="2.3" height="1.2" fill="#ff1010"/>
<rect x="130.43" y="69.2" width="2.3" height="5.6" fill="#ff1010"/>
<rect x="133.44" y="73.4" width="2.3" height="4.7" fill="#ff1010"/>
<rect x="136.46" y="77.2" width="2.3" height="2.8" fill="#ff1010"/>
<rect x="139.48" y="74.4" width="2.3" height="4.2" fill="#12e412"/>
<rect x="142.50" y="73.9" width="2.3" height="4.7" fill="#ff1010"/>
<rect x="145.52" y="74.8" width="2.3" height="3.8" fill="#12e412"/>
<rect x="148.53" y="74.8" width="2.3" height="1.2" fill="#ff1010"/>
<rect x="152.0" y="70.2" width="1.4" height="4.6" fill="#088608"/>
<rect x="151.55" y="71.6" width="2.3" height="3.2" fill="#12e412"/>
<rect x="154.57" y="70.2" width="2.3" height="7.5" fill="#ff1010"/>
<rect x="157.59" y="77.2" width="2.3" height="1.4" fill="#ff1010"/>
<rect x="160.61" y="77.0" width="2.3" height="1.2" fill="#12e412"/>
<rect x="163.62" y="76.7" width="2.3" height="1.3" fill="#ff1010"/>
<rect x="166.64" y="77.2" width="2.3" height="1.2" fill="#12e412"/>
<rect x="169.66" y="77.6" width="2.3" height="1.2" fill="#ff1010"/>
<rect x="172.68" y="75.8" width="2.3" height="2.8" fill="#12e412"/>
<rect x="175.70" y="75.8" width="2.3" height="1.2" fill="#12e412"/>
<rect x="178.71" y="76.7" width="2.3" height="4.2" fill="#ff1010"/>
<rect x="182.2" y="80.5" width="1.4" height="15.9" fill="#8c0404"/>
<rect x="181.73" y="80.5" width="2.3" height="8.9" fill="#ff1010"/>
<rect x="184.75" y="88.0" width="2.3" height="3.7" fill="#12e412"/>
<rect x="187.77" y="88.4" width="2.3" height="5.2" fill="#ff1010"/>
<rect x="190.79" y="90.8" width="2.3" height="2.8" fill="#12e412"/>
<rect x="193.80" y="86.1" width="2.3" height="6.6" fill="#12e412"/>
<rect x="196.82" y="87.5" width="2.3" height="2.3" fill="#ff1010"/>
<rect x="199.84" y="84.2" width="2.3" height="4.2" fill="#12e412"/>
<rect x="202.86" y="80.9" width="2.3" height="1.9" fill="#12e412"/>
<rect x="205.88" y="83.8" width="2.3" height="2.3" fill="#12e412"/>
<rect x="208.89" y="83.8" width="2.3" height="3.2" fill="#ff1010"/>
<rect x="211.91" y="85.6" width="2.3" height="1.4" fill="#12e412"/>
<rect x="214.93" y="83.8" width="2.3" height="1.5" fill="#12e412"/>
<rect x="217.95" y="83.3" width="2.3" height="5.1" fill="#ff1010"/>
<rect x="220.97" y="88.0" width="2.3" height="1.8" fill="#ff1010"/>
<rect x="223.98" y="86.1" width="2.3" height="1.9" fill="#12e412"/>
<rect x="227.5" y="87.5" width="1.4" height="8.9" fill="#8c0404"/>
<rect x="227.00" y="87.5" width="2.3" height="3.8" fill="#ff1010"/>
<rect x="230.02" y="89.4" width="2.3" height="3.3" fill="#ff1010"/>
<rect x="233.04" y="93.1" width="2.3" height="1.9" fill="#12e412"/>
<rect x="236.06" y="92.2" width="2.3" height="1.4" fill="#ff1010"/>
<rect x="239.07" y="90.3" width="2.3" height="2.8" fill="#12e412"/>
<rect x="242.09" y="83.3" width="2.3" height="7.5" fill="#12e412"/>
<rect x="245.11" y="82.8" width="2.3" height="3.3" fill="#ff1010"/>
<rect x="248.13" y="82.8" width="2.3" height="4.2" fill="#12e412"/>
<rect x="251.15" y="85.2" width="2.3" height="2.3" fill="#ff1010"/>
<rect x="254.16" y="88.9" width="2.3" height="4.2" fill="#ff1010"/>
<rect x="257.18" y="89.8" width="2.3" height="1.9" fill="#ff1010"/>
<rect x="260.20" y="90.8" width="2.3" height="1.9" fill="#ff1010"/>
<rect x="263.22" y="89.8" width="2.3" height="1.9" fill="#12e412"/>
<rect x="266.24" y="89.8" width="2.3" height="1.9" fill="#ff1010"/>
<rect x="269.7" y="88.4" width="1.4" height="7.5" fill="#088608"/>
<rect x="269.25" y="88.4" width="2.3" height="3.8" fill="#12e412"/>
<rect x="272.27" y="87.5" width="2.3" height="1.4" fill="#ff1010"/>
<rect x="275.29" y="86.6" width="2.3" height="2.3" fill="#ff1010"/>
<rect x="278.31" y="84.7" width="2.3" height="2.8" fill="#ff1010"/>
<rect x="281.33" y="88.9" width="2.3" height="1.9" fill="#ff1010"/>
<rect x="284.34" y="89.4" width="2.3" height="2.3" fill="#12e412"/>
<rect x="287.36" y="89.8" width="2.3" height="1.9" fill="#12e412"/>
<rect x="290.38" y="90.8" width="2.3" height="1.9" fill="#ff1010"/>
<rect x="293.8" y="92.0" width="1.4" height="21.3" fill="#8c0404"/>
<rect x="293.40" y="92.0" width="2.3" height="2.8" fill="#ff1010"/>
<rect x="296.9" y="86.0" width="1.4" height="9.0" fill="#8c0404"/>
<rect x="296.42" y="88.4" width="2.3" height="6.6" fill="#ff1010"/>
<rect x="299.43" y="91.7" width="2.3" height="2.8" fill="#12e412"/>
<rect x="302.45" y="91.7" width="2.3" height="1.9" fill="#12e412"/>
<rect x="305.47" y="91.7" width="2.3" height="1.4" fill="#ff1010"/>
<rect x="308.49" y="93.1" width="2.3" height="1.2" fill="#ff1010"/>
<rect x="311.51" y="93.1" width="2.3" height="4.2" fill="#ff1010"/>
<rect x="315.0" y="95.9" width="1.4" height="20.2" fill="#8c0404"/>
<rect x="314.52" y="95.9" width="2.3" height="12.2" fill="#ff1010"/>
<rect x="318.0" y="107.7" width="1.4" height="15.9" fill="#8c0404"/>
<rect x="317.54" y="107.7" width="2.3" height="7.0" fill="#ff1010"/>
<rect x="320.56" y="113.8" width="2.3" height="6.0" fill="#ff1010"/>
<rect x="324.0" y="120.8" width="1.4" height="14.5" fill="#088608"/>
<rect x="323.58" y="120.8" width="2.3" height="3.2" fill="#12e412"/>
<rect x="327.0" y="118.0" width="1.4" height="2.8" fill="#8c0404"/>
<rect x="326.60" y="118.0" width="2.3" height="1.4" fill="#ff1010"/>
<rect x="330.1" y="117.0" width="1.4" height="4.7" fill="#8c0404"/>
<rect x="329.61" y="118.9" width="2.3" height="2.8" fill="#ff1010"/>
<rect x="332.63" y="120.8" width="2.3" height="3.2" fill="#12e412"/>
<rect x="335.65" y="119.4" width="2.3" height="2.8" fill="#12e412"/>
<rect x="338.67" y="117.5" width="2.3" height="2.8" fill="#12e412"/>
<rect x="342.1" y="119.8" width="1.4" height="7.1" fill="#8c0404"/>
<rect x="341.69" y="119.8" width="2.3" height="4.7" fill="#ff1010"/>
<rect x="344.70" y="123.1" width="2.3" height="2.8" fill="#ff1010"/>
<rect x="348.2" y="123.6" width="1.4" height="7.0" fill="#8c0404"/>
<rect x="347.72" y="123.6" width="2.3" height="3.7" fill="#ff1010"/>
<rect x="350.74" y="123.0" width="2.3" height="5.0" fill="#12e412"/>
<rect x="353.76" y="124.6" width="2.3" height="1.7" fill="#ff1010"/>
<rect x="356.78" y="123.6" width="2.3" height="1.2" fill="#ff1010"/>
<rect x="360.2" y="124.5" width="1.4" height="10.2" fill="#8c0404"/>
<rect x="359.79" y="124.5" width="2.3" height="3.7" fill="#ff1010"/>
<rect x="362.81" y="129.1" width="2.3" height="5.7" fill="#ff1010"/>
<rect x="366.3" y="134.2" width="1.4" height="11.8" fill="#8c0404"/>
<rect x="365.83" y="134.2" width="2.3" height="9.4" fill="#ff1010"/>
<rect x="369.3" y="142.2" width="1.4" height="19.7" fill="#088608"/>
<rect x="368.85" y="142.2" width="2.3" height="1.8" fill="#12e412"/>
<rect x="372.3" y="137.5" width="1.4" height="17.3" fill="#8c0404"/>
<rect x="371.87" y="140.8" width="2.3" height="14.0" fill="#ff1010"/>
<rect x="375.3" y="154.8" width="1.4" height="6.2" fill="#8c0404"/>
<rect x="374.88" y="154.8" width="2.3" height="3.3" fill="#ff1010"/>
<rect x="378.4" y="155.8" width="1.4" height="117.6" fill="#8c0404"/>
<rect x="377.90" y="155.8" width="2.3" height="112.9" fill="#ff1010"/>
<rect x="381.4" y="245.0" width="1.4" height="100.3" fill="#8c0404"/>
<rect x="380.92" y="268.8" width="2.3" height="33.4" fill="#ff1010"/>
<rect x="384.4" y="289.4" width="1.4" height="35.8" fill="#088608"/>
<rect x="383.94" y="303.1" width="2.3" height="5.6" fill="#12e412"/>
<rect x="387.4" y="277.7" width="1.4" height="39.5" fill="#088608"/>
<rect x="386.96" y="285.6" width="2.3" height="18.4" fill="#12e412"/>
<rect x="390.4" y="281.0" width="1.4" height="23.0" fill="#8c0404"/>
<rect x="389.97" y="285.2" width="2.3" height="18.8" fill="#ff1010"/>
<rect x="393.4" y="293.1" width="1.4" height="22.2" fill="#8c0404"/>
<rect x="392.99" y="306.0" width="2.3" height="3.7" fill="#ff1010"/>
<rect x="396.5" y="285.2" width="1.4" height="30.1" fill="#088608"/>
<rect x="396.01" y="287.0" width="2.3" height="19.9" fill="#12e412"/>
<rect x="399.5" y="274.4" width="1.4" height="24.2" fill="#088608"/>
<rect x="399.03" y="274.4" width="2.3" height="13.6" fill="#12e412"/>
<rect x="402.5" y="263.1" width="1.4" height="18.8" fill="#088608"/>
<rect x="402.05" y="280.0" width="2.3" height="1.9" fill="#12e412"/>
<rect x="405.5" y="272.5" width="1.4" height="9.4" fill="#8c0404"/>
<rect x="405.06" y="279.0" width="2.3" height="2.9" fill="#ff1010"/>
<rect x="408.5" y="278.6" width="1.4" height="25.4" fill="#8c0404"/>
<rect x="408.08" y="278.6" width="2.3" height="12.2" fill="#ff1010"/>
<rect x="411.6" y="284.2" width="1.4" height="8.3" fill="#8c0404"/>
<rect x="411.10" y="288.0" width="2.3" height="4.5" fill="#ff1010"/>
<rect x="414.6" y="285.6" width="1.4" height="7.5" fill="#8c0404"/>
<rect x="414.12" y="290.3" width="2.3" height="2.8" fill="#ff1010"/>
<rect x="417.6" y="293.1" width="1.4" height="18.5" fill="#8c0404"/>
<rect x="417.14" y="293.1" width="2.3" height="8.6" fill="#ff1010"/>
<rect x="420.6" y="298.4" width="1.4" height="16.9" fill="#8c0404"/>
<rect x="420.15" y="303.5" width="2.3" height="6.7" fill="#ff1010"/>
<rect x="423.6" y="293.7" width="1.4" height="18.3" fill="#088608"/>
<rect x="423.17" y="303.6" width="2.3" height="8.4" fill="#12e412"/>
<rect x="426.6" y="300.8" width="1.4" height="19.2" fill="#8c0404"/>
<rect x="426.19" y="304.0" width="2.3" height="5.7" fill="#ff1010"/>
<rect x="429.7" y="300.3" width="1.4" height="15.9" fill="#8c0404"/>
<rect x="429.21" y="307.3" width="2.3" height="8.9" fill="#ff1010"/>
<rect x="432.7" y="305.5" width="1.4" height="14.5" fill="#088608"/>
<rect x="432.23" y="310.6" width="2.3" height="6.1" fill="#12e412"/>
<rect x="435.7" y="298.9" width="1.4" height="16.4" fill="#088608"/>
<rect x="435.24" y="302.2" width="2.3" height="13.1" fill="#12e412"/>
<rect x="438.7" y="299.2" width="1.4" height="11.0" fill="#8c0404"/>
<rect x="438.26" y="302.2" width="2.3" height="8.0" fill="#ff1010"/>
<rect x="441.7" y="298.9" width="1.4" height="11.3" fill="#8c0404"/>
<rect x="441.28" y="304.0" width="2.3" height="6.2" fill="#ff1010"/>
<rect x="444.7" y="281.9" width="1.4" height="34.4" fill="#088608"/>
<rect x="444.30" y="295.2" width="2.3" height="15.0" fill="#12e412"/>
<rect x="447.8" y="283.8" width="1.4" height="14.6" fill="#8c0404"/>
<rect x="447.32" y="289.8" width="2.3" height="3.8" fill="#ff1010"/>
<rect x="450.8" y="292.2" width="1.4" height="11.3" fill="#8c0404"/>
<rect x="450.33" y="292.2" width="2.3" height="5.6" fill="#ff1010"/>
<rect x="453.8" y="289.8" width="1.4" height="11.8" fill="#088608"/>
<rect x="453.35" y="289.8" width="2.3" height="9.4" fill="#12e412"/>
<rect x="456.8" y="283.2" width="1.4" height="11.9" fill="#088608"/>
<rect x="456.37" y="283.2" width="2.3" height="7.4" fill="#12e412"/>
<rect x="459.39" y="281.5" width="2.3" height="5.4" fill="#12e412"/>
<rect x="462.9" y="276.0" width="1.4" height="16.3" fill="#8c0404"/>
<rect x="462.41" y="280.2" width="2.3" height="12.1" fill="#ff1010"/>
<rect x="465.9" y="284.4" width="1.4" height="14.0" fill="#088608"/>
<rect x="465.42" y="284.4" width="2.3" height="9.4" fill="#12e412"/>
<rect x="468.44" y="287.2" width="2.3" height="8.0" fill="#ff1010"/>
<rect x="471.46" y="295.6" width="2.3" height="7.5" fill="#ff1010"/>
<rect x="474.9" y="299.0" width="1.4" height="6.5" fill="#088608"/>
<rect x="474.48" y="300.3" width="2.3" height="1.9" fill="#12e412"/>
<rect x="477.50" y="297.5" width="2.3" height="4.2" fill="#12e412"/>
<rect x="480.51" y="298.9" width="2.3" height="1.9" fill="#ff1010"/>
<rect x="483.53" y="297.0" width="2.3" height="1.9" fill="#ff1010"/>
<rect x="486.55" y="295.6" width="2.3" height="2.8" fill="#ff1010"/>
<rect x="489.57" y="297.5" width="2.3" height="2.8" fill="#ff1010"/>
<rect x="492.59" y="294.2" width="2.3" height="6.1" fill="#12e412"/>
<rect x="495.60" y="291.9" width="2.3" height="2.8" fill="#12e412"/>
<rect x="498.62" y="290.9" width="2.3" height="2.4" fill="#ff1010"/>
<rect x="501.64" y="292.3" width="2.3" height="8.0" fill="#ff1010"/>
<rect x="504.66" y="294.7" width="2.3" height="4.2" fill="#12e412"/>
<rect x="508.1" y="295.6" width="1.4" height="39.1" fill="#8c0404"/>
<rect x="507.68" y="295.6" width="2.3" height="21.7" fill="#ff1010"/>
<rect x="511.1" y="306.9" width="1.4" height="21.2" fill="#8c0404"/>
<rect x="510.69" y="314.5" width="2.3" height="4.2" fill="#ff1010"/>
<rect x="514.2" y="319.7" width="1.4" height="35.6" fill="#8c0404"/>
<rect x="513.71" y="319.7" width="2.3" height="26.2" fill="#ff1010"/>
<rect x="517.2" y="338.0" width="1.4" height="19.0" fill="#088608"/>
<rect x="516.73" y="343.6" width="2.3" height="6.6" fill="#12e412"/>
<rect x="520.2" y="344.0" width="1.4" height="6.6" fill="#8c0404"/>
<rect x="519.75" y="344.0" width="2.3" height="2.9" fill="#ff1010"/>
<rect x="523.2" y="322.0" width="1.4" height="21.1" fill="#088608"/>
<rect x="522.77" y="326.7" width="2.3" height="16.4" fill="#12e412"/>
<rect x="526.2" y="321.6" width="1.4" height="9.8" fill="#088608"/>
<rect x="525.78" y="321.6" width="2.3" height="6.1" fill="#12e412"/>
<rect x="529.3" y="317.3" width="1.4" height="7.5" fill="#088608"/>
<rect x="528.80" y="323.9" width="2.3" height="1.2" fill="#12e412"/>
<rect x="532.3" y="324.8" width="1.4" height="7.1" fill="#8c0404"/>
<rect x="531.82" y="324.8" width="2.3" height="3.3" fill="#ff1010"/>
<rect x="534.84" y="321.1" width="2.3" height="7.0" fill="#12e412"/>
<rect x="537.86" y="320.6" width="2.3" height="6.6" fill="#ff1010"/>
<rect x="541.3" y="326.2" width="1.4" height="8.9" fill="#8c0404"/>
<rect x="540.87" y="328.1" width="2.3" height="7.1" fill="#ff1010"/>
<rect x="543.89" y="332.3" width="2.3" height="3.8" fill="#12e412"/>
<rect x="546.91" y="330.0" width="2.3" height="2.8" fill="#ff1010"/>
<rect x="550.4" y="328.0" width="1.4" height="3.4" fill="#088608"/>
<rect x="549.93" y="330.0" width="2.3" height="1.4" fill="#12e412"/>
<rect x="552.95" y="328.6" width="2.3" height="4.2" fill="#ff1010"/>
<rect x="556.4" y="331.4" width="1.4" height="2.6" fill="#088608"/>
<rect x="555.96" y="331.4" width="2.3" height="1.2" fill="#12e412"/>
<rect x="558.98" y="330.0" width="2.3" height="2.3" fill="#12e412"/>
<rect x="562.4" y="313.1" width="1.4" height="16.9" fill="#088608"/>
<rect x="562.00" y="315.0" width="2.3" height="15.0" fill="#12e412"/>
<rect x="565.02" y="316.4" width="2.3" height="3.8" fill="#ff1010"/>
<rect x="568.04" y="321.1" width="2.3" height="2.8" fill="#ff1010"/>
<rect x="571.5" y="316.9" width="1.4" height="5.3" fill="#8c0404"/>
<rect x="571.05" y="319.5" width="2.3" height="2.7" fill="#ff1010"/>
<rect x="574.07" y="323.4" width="2.3" height="9.9" fill="#ff1010"/>
<rect x="577.5" y="327.0" width="1.4" height="10.0" fill="#088608"/>
<rect x="577.09" y="330.7" width="2.3" height="1.6" fill="#12e412"/>
<rect x="580.6" y="326.0" width="1.4" height="4.5" fill="#088608"/>
<rect x="580.11" y="328.1" width="2.3" height="2.4" fill="#12e412"/>
<rect x="583.6" y="321.6" width="1.4" height="13.4" fill="#8c0404"/>
<rect x="583.13" y="329.5" width="2.3" height="5.5" fill="#ff1010"/>
<rect x="586.6" y="331.2" width="1.4" height="15.7" fill="#8c0404"/>
<rect x="586.14" y="331.2" width="2.3" height="6.3" fill="#ff1010"/>
<rect x="589.6" y="317.3" width="1.4" height="21.6" fill="#088608"/>
<rect x="589.16" y="326.2" width="2.3" height="7.1" fill="#12e412"/>
<rect x="592.18" y="321.1" width="2.3" height="4.2" fill="#12e412"/>
<rect x="595.20" y="318.8" width="2.3" height="4.6" fill="#12e412"/>
<rect x="598.22" y="316.9" width="2.3" height="1.9" fill="#12e412"/>
<rect x="601.7" y="311.2" width="1.4" height="9.4" fill="#088608"/>
<rect x="601.23" y="313.1" width="2.3" height="7.5" fill="#12e412"/>
<rect x="604.7" y="299.0" width="1.4" height="12.2" fill="#088608"/>
<rect x="604.25" y="300.5" width="2.3" height="10.8" fill="#12e412"/>
<rect x="607.27" y="303.3" width="2.3" height="8.9" fill="#ff1010"/>
<rect x="610.29" y="308.0" width="2.3" height="5.1" fill="#12e412"/>
<rect x="613.31" y="304.7" width="2.3" height="1.4" fill="#ff1010"/>
<rect x="616.32" y="303.8" width="2.3" height="6.1" fill="#ff1010"/>
<rect x="619.34" y="308.9" width="2.3" height="1.4" fill="#ff1010"/>
<rect x="622.36" y="307.5" width="2.3" height="1.4" fill="#ff1010"/>
<rect x="625.38" y="307.0" width="2.3" height="2.4" fill="#12e412"/>
<rect x="628.40" y="308.0" width="2.3" height="1.8" fill="#ff1010"/>
<rect x="631.41" y="309.8" width="2.3" height="1.2" fill="#ff1010"/>
<rect x="634.43" y="304.7" width="2.3" height="5.6" fill="#12e412"/>
<rect x="637.9" y="304.2" width="1.4" height="5.2" fill="#8c0404"/>
<rect x="637.45" y="306.6" width="2.3" height="2.8" fill="#ff1010"/>
<rect x="640.47" y="307.5" width="2.3" height="1.2" fill="#12e412"/>
<line x1="354.2" y1="253.6" x2="695.6" y2="312.8" stroke="#c8c8c8" stroke-width="2"/>
<line x1="342.5" y1="308.75" x2="707.7" y2="363.6" stroke="#c8c8c8" stroke-width="2"/>
<rect x="3" y="413.3" width="3" height="3.7" fill="#ffcdd2" shape-rendering="crispEdges"/>
<rect x="6" y="413.3" width="3" height="1.4" fill="#ffcdd2" shape-rendering="crispEdges"/>
<rect x="9" y="410.9" width="3" height="2.4" fill="#26a69a" shape-rendering="crispEdges"/>
<rect x="12" y="407.8" width="3" height="5.5" fill="#26a69a" shape-rendering="crispEdges"/>
<rect x="15" y="406.2" width="3" height="7.1" fill="#26a69a" shape-rendering="crispEdges"/>
<rect x="18" y="404.2" width="3" height="9.1" fill="#26a69a" shape-rendering="crispEdges"/>
<rect x="21" y="404.4" width="3" height="8.9" fill="#b2dfdb" shape-rendering="crispEdges"/>
<rect x="24" y="404.1" width="3" height="9.2" fill="#26a69a" shape-rendering="crispEdges"/>
<rect x="27" y="404.3" width="3" height="9.0" fill="#b2dfdb" shape-rendering="crispEdges"/>
<rect x="30" y="403.3" width="4" height="10.0" fill="#26a69a" shape-rendering="crispEdges"/>
<rect x="34" y="404.6" width="3" height="8.7" fill="#b2dfdb" shape-rendering="crispEdges"/>
<rect x="37" y="406.2" width="3" height="7.1" fill="#b2dfdb" shape-rendering="crispEdges"/>
<rect x="40" y="407.8" width="3" height="5.5" fill="#b2dfdb" shape-rendering="crispEdges"/>
<rect x="43" y="408.6" width="3" height="4.7" fill="#b2dfdb" shape-rendering="crispEdges"/>
<rect x="46" y="409.9" width="3" height="3.4" fill="#b2dfdb" shape-rendering="crispEdges"/>
<rect x="49" y="411.2" width="3" height="2.1" fill="#b2dfdb" shape-rendering="crispEdges"/>
<rect x="52" y="412.2" width="3" height="1.1" fill="#b2dfdb" shape-rendering="crispEdges"/>
<rect x="55" y="412.9" width="3" height="0.8" fill="#b2dfdb" shape-rendering="crispEdges"/>
<rect x="58" y="412.8" width="3" height="0.8" fill="#26a69a" shape-rendering="crispEdges"/>
<rect x="61" y="413.3" width="3" height="0.8" fill="#ef5350" shape-rendering="crispEdges"/>
<rect x="64" y="413.3" width="3" height="0.8" fill="#ef5350" shape-rendering="crispEdges"/>
<rect x="67" y="413.3" width="3" height="0.8" fill="#ef5350" shape-rendering="crispEdges"/>
<rect x="70" y="413.1" width="3" height="0.8" fill="#26a69a" shape-rendering="crispEdges"/>
<rect x="73" y="413.3" width="3" height="0.8" fill="#ef5350" shape-rendering="crispEdges"/>
<rect x="76" y="413.3" width="3" height="0.9" fill="#ef5350" shape-rendering="crispEdges"/>
<rect x="79" y="413.3" width="3" height="1.8" fill="#ef5350" shape-rendering="crispEdges"/>
<rect x="82" y="413.3" width="3" height="3.7" fill="#ef5350" shape-rendering="crispEdges"/>
<rect x="85" y="413.3" width="3" height="4.6" fill="#ef5350" shape-rendering="crispEdges"/>
<rect x="88" y="413.3" width="3" height="4.4" fill="#ffcdd2" shape-rendering="crispEdges"/>
<rect x="91" y="413.3" width="3" height="4.4" fill="#ef5350" shape-rendering="crispEdges"/>
<rect x="94" y="413.3" width="3" height="4.8" fill="#ef5350" shape-rendering="crispEdges"/>
<rect x="97" y="413.3" width="3" height="4.8" fill="#ef5350" shape-rendering="crispEdges"/>
<rect x="100" y="413.3" width="3" height="4.5" fill="#ffcdd2" shape-rendering="crispEdges"/>
<rect x="103" y="413.3" width="3" height="2.2" fill="#ffcdd2" shape-rendering="crispEdges"/>
<rect x="106" y="413.3" width="3" height="0.8" fill="#ffcdd2" shape-rendering="crispEdges"/>
<rect x="109" y="412.4" width="3" height="0.9" fill="#26a69a" shape-rendering="crispEdges"/>
<rect x="112" y="412.2" width="3" height="1.1" fill="#26a69a" shape-rendering="crispEdges"/>
<rect x="115" y="411.9" width="3" height="1.4" fill="#26a69a" shape-rendering="crispEdges"/>
<rect x="118" y="412.2" width="3" height="1.1" fill="#b2dfdb" shape-rendering="crispEdges"/>
<rect x="121" y="411.8" width="3" height="1.5" fill="#26a69a" shape-rendering="crispEdges"/>
<rect x="124" y="412.1" width="3" height="1.2" fill="#b2dfdb" shape-rendering="crispEdges"/>
<rect x="127" y="412.3" width="3" height="1.0" fill="#b2dfdb" shape-rendering="crispEdges"/>
<rect x="130" y="413.3" width="3" height="0.8" fill="#ef5350" shape-rendering="crispEdges"/>
<rect x="133" y="413.3" width="3" height="1.5" fill="#ef5350" shape-rendering="crispEdges"/>
<rect x="136" y="413.3" width="3" height="2.6" fill="#ef5350" shape-rendering="crispEdges"/>
<rect x="139" y="413.3" width="3" height="1.9" fill="#ffcdd2" shape-rendering="crispEdges"/>
<rect x="142" y="413.3" width="3" height="2.2" fill="#ef5350" shape-rendering="crispEdges"/>
<rect x="145" y="413.3" width="3" height="1.4" fill="#ffcdd2" shape-rendering="crispEdges"/>
<rect x="148" y="413.3" width="3" height="1.0" fill="#ffcdd2" shape-rendering="crispEdges"/>
<rect x="151" y="413.1" width="3" height="0.8" fill="#26a69a" shape-rendering="crispEdges"/>
<rect x="154" y="413.3" width="3" height="0.8" fill="#ef5350" shape-rendering="crispEdges"/>
<rect x="157" y="413.3" width="3" height="0.8" fill="#ef5350" shape-rendering="crispEdges"/>
<rect x="160" y="413.3" width="3" height="0.8" fill="#ffcdd2" shape-rendering="crispEdges"/>
<rect x="163" y="413.3" width="3" height="0.8" fill="#ffcdd2" shape-rendering="crispEdges"/>
<rect x="166" y="413.3" width="3" height="0.8" fill="#ffcdd2" shape-rendering="crispEdges"/>
<rect x="169" y="413.3" width="3" height="0.8" fill="#ef5350" shape-rendering="crispEdges"/>
<rect x="172" y="412.8" width="3" height="0.8" fill="#26a69a" shape-rendering="crispEdges"/>
<rect x="175" y="412.4" width="3" height="0.9" fill="#26a69a" shape-rendering="crispEdges"/>
<rect x="178" y="413.2" width="3" height="0.8" fill="#b2dfdb" shape-rendering="crispEdges"/>
<rect x="181" y="413.3" width="3" height="2.0" fill="#ef5350" shape-rendering="crispEdges"/>
<rect x="184" y="413.3" width="3" height="2.9" fill="#ef5350" shape-rendering="crispEdges"/>
<rect x="187" y="413.3" width="3" height="4.3" fill="#ef5350" shape-rendering="crispEdges"/>
<rect x="190" y="413.3" width="3" height="4.4" fill="#ef5350" shape-rendering="crispEdges"/>
<rect x="193" y="413.3" width="3" height="3.1" fill="#ffcdd2" shape-rendering="crispEdges"/>
<rect x="196" y="413.3" width="3" height="2.8" fill="#ffcdd2" shape-rendering="crispEdges"/>
<rect x="199" y="413.3" width="4" height="1.2" fill="#ffcdd2" shape-rendering="crispEdges"/>
<rect x="203" y="412.7" width="3" height="0.8" fill="#26a69a" shape-rendering="crispEdges"/>
<rect x="206" y="412.0" width="3" height="1.3" fill="#26a69a" shape-rendering="crispEdges"/>
<rect x="209" y="412.2" width="3" height="1.1" fill="#b2dfdb" shape-rendering="crispEdges"/>
<rect x="212" y="412.0" width="3" height="1.3" fill="#26a69a" shape-rendering="crispEdges"/>
<rect x="215" y="411.5" width="3" height="1.8" fill="#26a69a" shape-rendering="crispEdges"/>
<rect x="218" y="412.1" width="3" height="1.2" fill="#b2dfdb" shape-rendering="crispEdges"/>
<rect x="221" y="412.7" width="3" height="0.8" fill="#b2dfdb" shape-rendering="crispEdges"/>
<rect x="224" y="412.3" width="3" height="1.0" fill="#26a69a" shape-rendering="crispEdges"/>
<rect x="227" y="413.0" width="3" height="0.8" fill="#b2dfdb" shape-rendering="crispEdges"/>
<rect x="230" y="413.3" width="3" height="0.8" fill="#ef5350" shape-rendering="crispEdges"/>
<rect x="233" y="413.3" width="3" height="0.8" fill="#ef5350" shape-rendering="crispEdges"/>
<rect x="236" y="413.3" width="3" height="1.0" fill="#ef5350" shape-rendering="crispEdges"/>
<rect x="239" y="413.3" width="3" height="0.8" fill="#ffcdd2" shape-rendering="crispEdges"/>
<rect x="242" y="411.7" width="3" height="1.6" fill="#26a69a" shape-rendering="crispEdges"/>
<rect x="245" y="411.0" width="3" height="2.3" fill="#26a69a" shape-rendering="crispEdges"/>
<rect x="248" y="409.9" width="3" height="3.4" fill="#26a69a" shape-rendering="crispEdges"/>
<rect x="251" y="410.3" width="3" height="3.0" fill="#b2dfdb" shape-rendering="crispEdges"/>
<rect x="254" y="411.8" width="3" height="1.5" fill="#b2dfdb" shape-rendering="crispEdges"/>
<rect x="257" y="412.4" width="3" height="0.9" fill="#b2dfdb" shape-rendering="crispEdges"/>
<rect x="260" y="413.0" width="3" height="0.8" fill="#b2dfdb" shape-rendering="crispEdges"/>
<rect x="263" y="412.7" width="3" height="0.8" fill="#26a69a" shape-rendering="crispEdges"/>
<rect x="266" y="412.9" width="3" height="0.8" fill="#b2dfdb" shape-rendering="crispEdges"/>
<rect x="269" y="412.3" width="3" height="1.0" fill="#26a69a" shape-rendering="crispEdges"/>
<rect x="272" y="412.0" width="3" height="1.3" fill="#26a69a" shape-rendering="crispEdges"/>
<rect x="275" y="411.8" width="3" height="1.5" fill="#26a69a" shape-rendering="crispEdges"/>
<rect x="278" y="411.5" width="3" height="1.8" fill="#26a69a" shape-rendering="crispEdges"/>
<rect x="281" y="411.9" width="3" height="1.4" fill="#b2dfdb" shape-rendering="crispEdges"/>
<rect x="284" y="412.0" width="3" height="1.3" fill="#b2dfdb" shape-rendering="crispEdges"/>
<rect x="287" y="412.1" width="3" height="1.2" fill="#b2dfdb" shape-rendering="crispEdges"/>
<rect x="290" y="412.8" width="3" height="0.8" fill="#b2dfdb" shape-rendering="crispEdges"/>
<rect x="293" y="413.3" width="3" height="0.8" fill="#ef5350" shape-rendering="crispEdges"/>
<rect x="296" y="413.3" width="3" height="0.8" fill="#ef5350" shape-rendering="crispEdges"/>
<rect x="299" y="413.3" width="3" height="0.8" fill="#ffcdd2" shape-rendering="crispEdges"/>
<rect x="302" y="413.3" width="3" height="0.8" fill="#ffcdd2" shape-rendering="crispEdges"/>
<rect x="305" y="413.3" width="3" height="0.8" fill="#ef5350" shape-rendering="crispEdges"/>
<rect x="308" y="413.3" width="3" height="0.8" fill="#ef5350" shape-rendering="crispEdges"/>
<rect x="311" y="413.3" width="3" height="0.9" fill="#ef5350" shape-rendering="crispEdges"/>
<rect x="314" y="413.3" width="3" height="3.3" fill="#ef5350" shape-rendering="crispEdges"/>
<rect x="317" y="413.3" width="3" height="5.9" fill="#ef5350" shape-rendering="crispEdges"/>
<rect x="320" y="413.3" width="3" height="8.2" fill="#ef5350" shape-rendering="crispEdges"/>
<rect x="323" y="413.3" width="3" height="9.2" fill="#ef5350" shape-rendering="crispEdges"/>
<rect x="326" y="413.3" width="3" height="9.0" fill="#ffcdd2" shape-rendering="crispEdges"/>
<rect x="329" y="413.3" width="3" height="8.8" fill="#ffcdd2" shape-rendering="crispEdges"/>
<rect x="332" y="413.3" width="3" height="7.8" fill="#ffcdd2" shape-rendering="crispEdges"/>
<rect x="335" y="413.3" width="3" height="6.3" fill="#ffcdd2" shape-rendering="crispEdges"/>
<rect x="338" y="413.3" width="3" height="4.6" fill="#ffcdd2" shape-rendering="crispEdges"/>
<rect x="341" y="413.3" width="3" height="4.3" fill="#ffcdd2" shape-rendering="crispEdges"/>
<rect x="344" y="413.3" width="3" height="4.0" fill="#ffcdd2" shape-rendering="crispEdges"/>
<rect x="347" y="413.3" width="3" height="3.7" fill="#ffcdd2" shape-rendering="crispEdges"/>
<rect x="350" y="413.3" width="3" height="2.3" fill="#ffcdd2" shape-rendering="crispEdges"/>
<rect x="353" y="413.3" width="3" height="1.6" fill="#ffcdd2" shape-rendering="crispEdges"/>
<rect x="356" y="413.3" width="3" height="0.8" fill="#ffcdd2" shape-rendering="crispEdges"/>
<rect x="359" y="413.3" width="3" height="0.8" fill="#ffcdd2" shape-rendering="crispEdges"/>
<rect x="362" y="413.3" width="3" height="1.2" fill="#ef5350" shape-rendering="crispEdges"/>
<rect x="365" y="413.3" width="3" height="3.1" fill="#ef5350" shape-rendering="crispEdges"/>
<rect x="368" y="413.3" width="4" height="3.6" fill="#ef5350" shape-rendering="crispEdges"/>
<rect x="372" y="413.3" width="3" height="5.8" fill="#ef5350" shape-rendering="crispEdges"/>
<rect x="375" y="413.3" width="3" height="7.2" fill="#ef5350" shape-rendering="crispEdges"/>
<rect x="378" y="413.3" width="3" height="25.9" fill="#ef5350" shape-rendering="crispEdges"/>
<rect x="381" y="413.3" width="3" height="41.0" fill="#ef5350" shape-rendering="crispEdges"/>
<rect x="384" y="413.3" width="3" height="48.0" fill="#ef5350" shape-rendering="crispEdges"/>
<rect x="387" y="413.3" width="3" height="46.7" fill="#ffcdd2" shape-rendering="crispEdges"/>
<rect x="390" y="413.3" width="3" height="45.5" fill="#ffcdd2" shape-rendering="crispEdges"/>
<rect x="393" y="413.3" width="3" height="42.5" fill="#ffcdd2" shape-rendering="crispEdges"/>
<rect x="396" y="413.3" width="3" height="34.2" fill="#ffcdd2" shape-rendering="crispEdges"/>
<rect x="399" y="413.3" width="3" height="24.3" fill="#ffcdd2" shape-rendering="crispEdges"/>
<rect x="402" y="413.3" width="3" height="16.7" fill="#ffcdd2" shape-rendering="crispEdges"/>
<rect x="405" y="413.3" width="3" height="10.4" fill="#ffcdd2" shape-rendering="crispEdges"/>
<rect x="408" y="413.3" width="3" height="6.2" fill="#ffcdd2" shape-rendering="crispEdges"/>
<rect x="411" y="413.3" width="3" height="2.4" fill="#ffcdd2" shape-rendering="crispEdges"/>
<rect x="414" y="412.2" width="3" height="1.1" fill="#26a69a" shape-rendering="crispEdges"/>
<rect x="417" y="410.3" width="3" height="3.0" fill="#26a69a" shape-rendering="crispEdges"/>
<rect x="420" y="409.4" width="3" height="3.9" fill="#26a69a" shape-rendering="crispEdges"/>
<rect x="423" y="407.1" width="3" height="6.2" fill="#26a69a" shape-rendering="crispEdges"/>
<rect x="426" y="405.8" width="3" height="7.5" fill="#26a69a" shape-rendering="crispEdges"/>
<rect x="429" y="405.3" width="3" height="8.0" fill="#26a69a" shape-rendering="crispEdges"/>
<rect x="432" y="403.6" width="3" height="9.7" fill="#26a69a" shape-rendering="crispEdges"/>
<rect x="435" y="400.9" width="3" height="12.4" fill="#26a69a" shape-rendering="crispEdges"/>
<rect x="438" y="400.0" width="3" height="13.3" fill="#26a69a" shape-rendering="crispEdges"/>
<rect x="441" y="399.3" width="3" height="14.0" fill="#26a69a" shape-rendering="crispEdges"/>
<rect x="444" y="396.5" width="3" height="16.8" fill="#26a69a" shape-rendering="crispEdges"/>
<rect x="447" y="394.5" width="3" height="18.8" fill="#26a69a" shape-rendering="crispEdges"/>
<rect x="450" y="394.1" width="3" height="19.2" fill="#26a69a" shape-rendering="crispEdges"/>
<rect x="453" y="392.9" width="3" height="20.4" fill="#26a69a" shape-rendering="crispEdges"/>
<rect x="456" y="391.5" width="3" height="21.8" fill="#26a69a" shape-rendering="crispEdges"/>
<rect x="459" y="390.9" width="3" height="22.4" fill="#26a69a" shape-rendering="crispEdges"/>
<rect x="462" y="392.6" width="3" height="20.7" fill="#b2dfdb" shape-rendering="crispEdges"/>
<rect x="465" y="393.1" width="3" height="20.2" fill="#b2dfdb" shape-rendering="crispEdges"/>
<rect x="468" y="395.5" width="3" height="17.8" fill="#b2dfdb" shape-rendering="crispEdges"/>
<rect x="471" y="398.7" width="3" height="14.6" fill="#b2dfdb" shape-rendering="crispEdges"/>
<rect x="474" y="400.6" width="3" height="12.7" fill="#b2dfdb" shape-rendering="crispEdges"/>
<rect x="477" y="401.6" width="3" height="11.7" fill="#b2dfdb" shape-rendering="crispEdges"/>
<rect x="480" y="402.9" width="3" height="10.4" fill="#b2dfdb" shape-rendering="crispEdges"/>
<rect x="483" y="403.7" width="3" height="9.6" fill="#b2dfdb" shape-rendering="crispEdges"/>
<rect x="486" y="404.2" width="3" height="9.1" fill="#b2dfdb" shape-rendering="crispEdges"/>
<rect x="489" y="405.0" width="3" height="8.3" fill="#b2dfdb" shape-rendering="crispEdges"/>
<rect x="492" y="404.7" width="3" height="8.6" fill="#26a69a" shape-rendering="crispEdges"/>
<rect x="495" y="404.4" width="3" height="8.9" fill="#26a69a" shape-rendering="crispEdges"/>
<rect x="498" y="404.6" width="3" height="8.7" fill="#b2dfdb" shape-rendering="crispEdges"/>
<rect x="501" y="406.0" width="3" height="7.3" fill="#b2dfdb" shape-rendering="crispEdges"/>
<rect x="504" y="406.1" width="3" height="7.2" fill="#b2dfdb" shape-rendering="crispEdges"/>
<rect x="507" y="409.7" width="3" height="3.6" fill="#b2dfdb" shape-rendering="crispEdges"/>
<rect x="510" y="412.1" width="3" height="1.2" fill="#b2dfdb" shape-rendering="crispEdges"/>
<rect x="513" y="413.3" width="3" height="4.0" fill="#ef5350" shape-rendering="crispEdges"/>
<rect x="516" y="413.3" width="3" height="6.5" fill="#ef5350" shape-rendering="crispEdges"/>
<rect x="519" y="413.3" width="3" height="8.0" fill="#ef5350" shape-rendering="crispEdges"/>
<rect x="522" y="413.3" width="3" height="5.5" fill="#ffcdd2" shape-rendering="crispEdges"/>
<rect x="525" y="413.3" width="3" height="2.6" fill="#ffcdd2" shape-rendering="crispEdges"/>
<rect x="528" y="413.3" width="3" height="0.8" fill="#ffcdd2" shape-rendering="crispEdges"/>
<rect x="531" y="413.2" width="3" height="0.8" fill="#26a69a" shape-rendering="crispEdges"/>
<rect x="534" y="411.4" width="4" height="1.9" fill="#26a69a" shape-rendering="crispEdges"/>
<rect x="538" y="411.0" width="3" height="2.3" fill="#26a69a" shape-rendering="crispEdges"/>
<rect x="541" y="411.7" width="3" height="1.6" fill="#b2dfdb" shape-rendering="crispEdges"/>
<rect x="544" y="411.6" width="3" height="1.7" fill="#26a69a" shape-rendering="crispEdges"/>
<rect x="547" y="411.4" width="3" height="1.9" fill="#26a69a" shape-rendering="crispEdges"/>
<rect x="550" y="410.8" width="3" height="2.5" fill="#26a69a" shape-rendering="crispEdges"/>
<rect x="553" y="410.7" width="3" height="2.6" fill="#26a69a" shape-rendering="crispEdges"/>
<rect x="556" y="410.3" width="3" height="3.0" fill="#26a69a" shape-rendering="crispEdges"/>
<rect x="559" y="409.9" width="3" height="3.4" fill="#26a69a" shape-rendering="crispEdges"/>
<rect x="562" y="407.4" width="3" height="5.9" fill="#26a69a" shape-rendering="crispEdges"/>
<rect x="565" y="406.7" width="3" height="6.6" fill="#26a69a" shape-rendering="crispEdges"/>
<rect x="568" y="407.0" width="3" height="6.3" fill="#b2dfdb" shape-rendering="crispEdges"/>
<rect x="571" y="407.0" width="3" height="6.3" fill="#b2dfdb" shape-rendering="crispEdges"/>
<rect x="574" y="408.8" width="3" height="4.5" fill="#b2dfdb" shape-rendering="crispEdges"/>
<rect x="577" y="409.7" width="3" height="3.6" fill="#b2dfdb" shape-rendering="crispEdges"/>
<rect x="580" y="409.9" width="3" height="3.4" fill="#b2dfdb" shape-rendering="crispEdges"/>
<rect x="583" y="411.0" width="3" height="2.3" fill="#b2dfdb" shape-rendering="crispEdges"/>
<rect x="586" y="412.1" width="3" height="1.2" fill="#b2dfdb" shape-rendering="crispEdges"/>
<rect x="589" y="411.1" width="3" height="2.2" fill="#26a69a" shape-rendering="crispEdges"/>
<rect x="592" y="409.8" width="3" height="3.5" fill="#26a69a" shape-rendering="crispEdges"/>
<rect x="595" y="408.7" width="3" height="4.6" fill="#26a69a" shape-rendering="crispEdges"/>
<rect x="598" y="407.9" width="3" height="5.4" fill="#26a69a" shape-rendering="crispEdges"/>
<rect x="601" y="407.0" width="3" height="6.3" fill="#26a69a" shape-rendering="crispEdges"/>
<rect x="604" y="404.9" width="3" height="8.4" fill="#26a69a" shape-rendering="crispEdges"/>
<rect x="607" y="405.7" width="3" height="7.6" fill="#b2dfdb" shape-rendering="crispEdges"/>
<rect x="610" y="405.9" width="3" height="7.4" fill="#b2dfdb" shape-rendering="crispEdges"/>
<rect x="613" y="406.2" width="3" height="7.1" fill="#b2dfdb" shape-rendering="crispEdges"/>
<rect x="616" y="407.2" width="3" height="6.1" fill="#b2dfdb" shape-rendering="crispEdges"/>
<rect x="619" y="408.3" width="3" height="5.0" fill="#b2dfdb" shape-rendering="crispEdges"/>
<rect x="622" y="409.0" width="3" height="4.3" fill="#b2dfdb" shape-rendering="crispEdges"/>
<rect x="625" y="409.5" width="3" height="3.8" fill="#b2dfdb" shape-rendering="crispEdges"/>
<rect x="628" y="410.4" width="3" height="2.9" fill="#b2dfdb" shape-rendering="crispEdges"/>
<rect x="631" y="411.3" width="3" height="2.0" fill="#b2dfdb" shape-rendering="crispEdges"/>
<rect x="634" y="411.2" width="3" height="2.1" fill="#26a69a" shape-rendering="crispEdges"/>
<rect x="637" y="412.0" width="3" height="1.3" fill="#b2dfdb" shape-rendering="crispEdges"/>
<rect x="640" y="412.3" width="3" height="1.0" fill="#b2dfdb" shape-rendering="crispEdges"/>
<polyline points="4.8,437.3 7.8,435.3 10.9,431.0 13.9,426.5 16.9,423.1 19.9,418.9 22.9,416.8 25.9,414.2 29.0,412.2 32.0,408.6 35.0,407.8 38.0,407.5 41.0,407.8 44.1,407.4 47.1,407.9 50.1,408.7 53.1,409.4 56.1,409.9 59.1,409.8 62.2,410.9 65.2,411.2 68.2,411.4 71.2,410.5 74.2,411.2 77.3,411.9 80.3,413.2 83.3,416.1 86.3,418.2 89.3,419.0 92.3,420.1 95.4,421.7 98.4,422.9 101.4,423.8 104.4,422.0 107.4,420.4 110.4,418.7 113.5,418.3 116.5,417.6 119.5,417.7 122.5,416.9 125.5,416.9 128.6,416.9 131.6,418.1 134.6,419.7 137.6,421.5 140.6,421.3 143.6,422.2 146.7,421.7 149.7,421.6 152.7,420.3 155.7,420.8 158.7,421.3 161.8,421.2 164.8,421.3 167.8,421.0 170.8,421.1 173.8,420.4 176.8,419.7 179.9,420.4 182.9,423.1 185.9,424.7 188.9,427.2 191.9,428.3 195.0,427.8 198.0,428.2 201.0,427.0 204.0,425.0 207.0,424.0 210.0,423.9 213.1,423.4 216.1,422.4 219.1,422.7 222.1,423.2 225.1,422.5 228.2,423.2 231.2,423.9 234.2,424.5 237.2,425.0 240.2,424.4 243.2,422.0 246.3,420.8 249.3,418.9 252.3,418.5 255.3,419.6 258.3,420.0 261.4,420.5 264.4,420.1 267.4,420.1 270.4,419.3 273.4,418.7 276.4,418.1 279.5,417.3 282.5,417.4 285.5,417.1 288.5,417.0 291.5,417.5 294.5,418.4 297.6,419.1 300.6,418.8 303.6,418.5 306.6,418.5 309.6,418.7 312.7,419.6 315.7,422.9 318.7,427.0 321.7,431.2 324.7,434.6 327.7,436.7 330.8,438.6 333.8,439.6 336.8,439.7 339.8,439.1 342.8,439.9 345.9,440.6 348.9,441.2 351.9,440.3 354.9,440.1 357.9,439.2 360.9,439.1 364.0,440.3 367.0,442.9 370.0,444.3 373.0,448.0 376.0,451.2 379.1,476.4 382.1,501.7 385.1,520.6 388.1,531.0 391.1,541.2 394.1,548.8 397.2,549.0 400.2,545.3 403.2,541.9 406.2,538.1 409.2,535.4 412.2,532.2 415.3,528.5 418.3,525.8 421.3,524.0 424.3,520.1 427.3,517.0 430.4,514.5 433.4,510.4 436.4,504.5 439.4,500.4 442.4,496.1 445.4,489.1 448.5,482.4 451.5,477.2 454.5,470.9 457.5,464.0 460.5,457.8 463.6,454.4 466.6,449.8 469.6,447.8 472.6,447.3 475.6,446.0 478.6,444.1 481.7,442.8 484.7,441.2 487.7,439.5 490.7,438.2 493.7,435.8 496.8,433.2 499.8,431.2 502.8,430.8 505.8,429.2 508.8,431.8 511.8,434.0 514.9,440.2 517.9,444.3 520.9,447.8 523.9,446.6 526.9,444.4 530.0,442.7 533.0,441.8 536.0,439.5 539.0,438.5 542.0,438.8 545.0,438.3 548.1,437.7 551.1,436.4 554.1,435.7 557.1,434.6 560.1,433.2 563.1,429.3 566.2,427.0 569.2,425.6 572.2,424.1 575.2,424.8 578.2,424.7 581.3,424.1 584.3,424.7 587.3,425.4 590.3,423.9 593.3,421.7 596.3,419.5 599.4,417.3 602.4,414.9 605.4,410.7 608.4,409.6 611.4,407.9 614.5,406.4 617.5,405.9 620.5,405.8 623.5,405.4 626.5,404.9 629.5,405.2 632.6,405.6 635.6,404.9 638.6,405.3 641.6,405.4" fill="none" stroke="#1b5e9e" stroke-width="1.45"/>
<polyline points="4.8,433.6 7.8,433.9 10.9,433.4 13.9,432.0 16.9,430.2 19.9,427.9 22.9,425.7 25.9,423.4 29.0,421.2 32.0,418.7 35.0,416.5 38.0,414.7 41.0,413.3 44.1,412.1 47.1,411.3 50.1,410.8 53.1,410.5 56.1,410.4 59.1,410.3 62.2,410.4 65.2,410.5 68.2,410.7 71.2,410.7 74.2,410.8 77.3,411.0 80.3,411.4 83.3,412.4 86.3,413.5 89.3,414.6 92.3,415.7 95.4,416.9 98.4,418.1 101.4,419.2 104.4,419.8 107.4,419.9 110.4,419.7 113.5,419.4 116.5,419.1 119.5,418.8 122.5,418.4 125.5,418.1 128.6,417.9 131.6,417.9 134.6,418.3 137.6,418.9 140.6,419.4 143.6,419.9 146.7,420.3 149.7,420.6 152.7,420.5 155.7,420.6 158.7,420.7 161.8,420.8 164.8,420.9 167.8,420.9 170.8,420.9 173.8,420.8 176.8,420.6 179.9,420.6 182.9,421.1 185.9,421.8 188.9,422.9 191.9,424.0 195.0,424.7 198.0,425.4 201.0,425.7 204.0,425.6 207.0,425.3 210.0,425.0 213.1,424.7 216.1,424.2 219.1,423.9 222.1,423.8 225.1,423.5 228.2,423.5 231.2,423.6 234.2,423.7 237.2,424.0 240.2,424.1 243.2,423.7 246.3,423.1 249.3,422.2 252.3,421.5 255.3,421.1 258.3,420.9 261.4,420.8 264.4,420.7 267.4,420.6 270.4,420.3 273.4,420.0 276.4,419.6 279.5,419.1 282.5,418.8 285.5,418.5 288.5,418.2 291.5,418.0 294.5,418.1 297.6,418.3 300.6,418.4 303.6,418.4 306.6,418.4 309.6,418.5 312.7,418.7 315.7,419.5 318.7,421.0 321.7,423.1 324.7,425.4 327.7,427.6 330.8,429.8 333.8,431.8 336.8,433.4 339.8,434.5 342.8,435.6 345.9,436.6 348.9,437.5 351.9,438.1 354.9,438.5 357.9,438.6 360.9,438.7 364.0,439.0 367.0,439.8 370.0,440.7 373.0,442.2 376.0,444.0 379.1,450.5 382.1,460.7 385.1,472.7 388.1,484.4 391.1,495.7 394.1,506.4 397.2,514.9 400.2,521.0 403.2,525.2 406.2,527.8 409.2,529.3 412.2,529.9 415.3,529.6 418.3,528.9 421.3,527.9 424.3,526.3 427.3,524.5 430.4,522.5 433.4,520.0 436.4,516.9 439.4,513.6 442.4,510.1 445.4,505.9 448.5,501.2 451.5,496.4 454.5,491.3 457.5,485.9 460.5,480.2 463.6,475.1 466.6,470.0 469.6,465.6 472.6,461.9 475.6,458.7 478.6,455.8 481.7,453.2 484.7,450.8 487.7,448.5 490.7,446.5 493.7,444.3 496.8,442.1 499.8,439.9 502.8,438.1 505.8,436.3 508.8,435.4 511.8,435.1 514.9,436.1 517.9,437.8 520.9,439.8 523.9,441.1 526.9,441.8 530.0,442.0 533.0,441.9 536.0,441.4 539.0,440.9 542.0,440.5 545.0,440.0 548.1,439.6 551.1,438.9 554.1,438.3 557.1,437.5 560.1,436.7 563.1,435.2 566.2,433.6 569.2,432.0 572.2,430.4 575.2,429.3 578.2,428.4 581.3,427.5 584.3,427.0 587.3,426.7 590.3,426.1 593.3,425.2 596.3,424.1 599.4,422.7 602.4,421.2 605.4,419.1 608.4,417.2 611.4,415.3 614.5,413.5 617.5,412.0 620.5,410.8 623.5,409.7 626.5,408.7 629.5,408.0 632.6,407.5 635.6,407.0 638.6,406.7 641.6,406.4" fill="none" stroke="#a4501a" stroke-width="1.45"/>
<rect x="951.3" y="302.2" width="68.5" height="11.4" fill="#0cfc18"/>
<rect x="985.8" y="302.2" width="1.2" height="11.4" fill="#1c8c1c"/>
<rect x="987.5" y="307.6" width="2.5" height="0.9" fill="#0b4f0b"/>
<text x="956.6" y="310.2" font-size="7.4" fill="#0b4f0b" textLength="26.3" lengthAdjust="spacingAndGlyphs" stroke="#0b4f0b" stroke-width="0.3">BCHUSD</text>
<text x="992.6" y="310.2" font-size="7.6" fill="#0b4f0b" textLength="22.3" lengthAdjust="spacingAndGlyphs" stroke="#0b4f0b" stroke-width="0.3">220.67</text>
<rect x="993" y="314.8" width="26.8" height="10.6" fill="#0cfc18"/>
<text x="995.6" y="322.6" font-size="7.6" fill="#0b4f0b" textLength="18.8" lengthAdjust="spacingAndGlyphs" stroke="#0b4f0b" stroke-width="0.3">26:32</text>
<text x="9.6" y="43" font-size="8.6" font-weight="bold" fill="#d0d0d0" textLength="155.5" lengthAdjust="spacingAndGlyphs">Bitcoin Cash / U.S. Dollar, 60, BITSTAMP</text>
<text x="9.6" y="53.5" font-size="8.6" fill="#bcbcbc" stroke="#bcbcbc" stroke-width="0.2" textLength="156.5" lengthAdjust="spacingAndGlyphs">ema ribbon (20, 25, 30, 35, 40, 45, 50, 55)</text>
<text x="9.6" y="395.6" font-size="8.6" fill="#bcbcbc" stroke="#bcbcbc" stroke-width="0.2" textLength="87" lengthAdjust="spacingAndGlyphs">MACD (12, 26, close, 9)</text>
<text x="3.6" y="11" font-size="8.5" fill="#40ace2" textLength="60.3" lengthAdjust="spacingAndGlyphs" stroke="#40ace2" stroke-width="0.45">AMBCrypto_TA</text>
<text x="65.1" y="11" font-size="8.5" fill="#333333" textLength="246.3" lengthAdjust="spacingAndGlyphs" stroke="#333333" stroke-width="0.35">published on TradingView.com, September 28, 2019 09:33:30 UTC</text>
<text x="3.6" y="22.4" font-size="8.5" fill="#1c1c1c" font-weight="bold" textLength="88.5" lengthAdjust="spacingAndGlyphs" stroke="#1c1c1c" stroke-width="0.15">BITSTAMP:BCHUSD, 60</text>
<text x="95.4" y="22.4" font-size="8.5" fill="#333333" textLength="26.0" lengthAdjust="spacingAndGlyphs" stroke="#333333" stroke-width="0.35">220.67</text>
<path d="M123.6 23.1 L127.3 16.1 L131 23.1 Z" fill="#1a9e1a"/>
<text x="132.9" y="22.4" font-size="8.5" fill="#333333" textLength="55.4" lengthAdjust="spacingAndGlyphs" stroke="#333333" stroke-width="0.35">+0.11 (+0.05%)</text>
<text x="191.9" y="22.4" font-size="8.5" fill="#1c1c1c" font-weight="bold" textLength="8.5" lengthAdjust="spacingAndGlyphs" stroke="#1c1c1c" stroke-width="0.15">O:</text>
<text x="200.6" y="22.4" font-size="8.5" fill="#34ae44" textLength="25.8" lengthAdjust="spacingAndGlyphs" stroke="#34ae44" stroke-width="0.35">220.45</text>
<text x="229.4" y="22.4" font-size="8.5" fill="#1c1c1c" font-weight="bold" textLength="8.2" lengthAdjust="spacingAndGlyphs" stroke="#1c1c1c" stroke-width="0.15">H:</text>
<text x="238.3" y="22.4" font-size="8.5" fill="#34ae44" textLength="26.2" lengthAdjust="spacingAndGlyphs" stroke="#34ae44" stroke-width="0.35">220.80</text>
<text x="266.9" y="22.4" font-size="8.5" fill="#1c1c1c" font-weight="bold" textLength="6.3" lengthAdjust="spacingAndGlyphs" stroke="#1c1c1c" stroke-width="0.15">L:</text>
<text x="273.9" y="22.4" font-size="8.5" fill="#34ae44" textLength="25.9" lengthAdjust="spacingAndGlyphs" stroke="#34ae44" stroke-width="0.35">220.32</text>
<text x="302.6" y="22.4" font-size="8.5" fill="#1c1c1c" font-weight="bold" textLength="7.4" lengthAdjust="spacingAndGlyphs" stroke="#1c1c1c" stroke-width="0.15">C:</text>
<text x="310.1" y="22.4" font-size="8.5" fill="#34ae44" textLength="25.8" lengthAdjust="spacingAndGlyphs" stroke="#34ae44" stroke-width="0.35">220.67</text>
<text x="4.4" y="591.6" font-size="8.6" fill="#3a3a3a" stroke="#3a3a3a" stroke-width="0.3" textLength="47.5" lengthAdjust="spacingAndGlyphs">Created with</text>
<text x="70.6" y="591.6" font-size="8.6" fill="#55b8e4" stroke="#55b8e4" stroke-width="0.15" textLength="46.3" lengthAdjust="spacingAndGlyphs">TradingView</text>
<g fill="#5bbfe8"><circle cx="57.2" cy="589.8" r="3"/><circle cx="62" cy="587.3" r="4.4"/><circle cx="66.9" cy="590" r="2.8"/><rect x="57" y="589" width="10" height="3.8"/></g>
<polyline points="55,591.6 59.8,586.8 63.4,591 67.8,586.4" fill="none" stroke="#fff" stroke-width="0.9"/>
</svg>
</body></html>
